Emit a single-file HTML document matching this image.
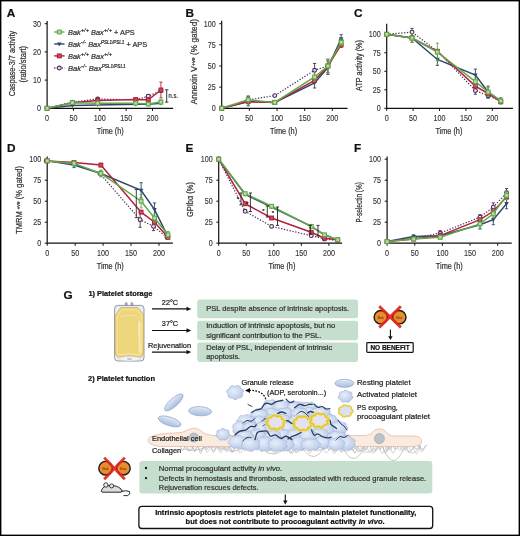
<!DOCTYPE html>
<html><head><meta charset="utf-8"><style>
html,body{margin:0;padding:0;background:#fff;overflow:hidden;}
svg{display:block;font-family:"Liberation Sans",sans-serif;will-change:transform;}
</style></head><body>
<svg width="520" height="536" viewBox="0 0 520 536">
<rect x="0" y="0" width="520" height="536" fill="#fff"/>
<path d="M47.10,21.00 V108.30 H173.20" fill="none" stroke="#111" stroke-width="1.2"/>
<path d="M44.70,108.30 H47.10" stroke="#111" stroke-width="1"/>
<text x="41.10" y="111.20" font-size="8.2" text-anchor="end" font-weight="normal" font-style="normal" fill="#333" stroke="#333" stroke-width="0.12" textLength="4.00" lengthAdjust="spacingAndGlyphs" >0</text>
<path d="M44.70,80.10 H47.10" stroke="#111" stroke-width="1"/>
<text x="41.10" y="83.00" font-size="8.2" text-anchor="end" font-weight="normal" font-style="normal" fill="#333" stroke="#333" stroke-width="0.12" textLength="8.00" lengthAdjust="spacingAndGlyphs" >10</text>
<path d="M44.70,51.90 H47.10" stroke="#111" stroke-width="1"/>
<text x="41.10" y="54.80" font-size="8.2" text-anchor="end" font-weight="normal" font-style="normal" fill="#333" stroke="#333" stroke-width="0.12" textLength="8.00" lengthAdjust="spacingAndGlyphs" >20</text>
<path d="M44.70,23.70 H47.10" stroke="#111" stroke-width="1"/>
<text x="41.10" y="26.60" font-size="8.2" text-anchor="end" font-weight="normal" font-style="normal" fill="#333" stroke="#333" stroke-width="0.12" textLength="8.00" lengthAdjust="spacingAndGlyphs" >30</text>
<path d="M47.10,108.30 V110.90" stroke="#111" stroke-width="1"/>
<text x="47.10" y="120.80" font-size="8.2" text-anchor="middle" font-weight="normal" font-style="normal" fill="#333" stroke="#333" stroke-width="0.12" textLength="4.00" lengthAdjust="spacingAndGlyphs" >0</text>
<path d="M73.45,108.30 V110.90" stroke="#111" stroke-width="1"/>
<text x="73.45" y="120.80" font-size="8.2" text-anchor="middle" font-weight="normal" font-style="normal" fill="#333" stroke="#333" stroke-width="0.12" textLength="8.00" lengthAdjust="spacingAndGlyphs" >50</text>
<path d="M99.80,108.30 V110.90" stroke="#111" stroke-width="1"/>
<text x="99.80" y="120.80" font-size="8.2" text-anchor="middle" font-weight="normal" font-style="normal" fill="#333" stroke="#333" stroke-width="0.12" textLength="12.00" lengthAdjust="spacingAndGlyphs" >100</text>
<path d="M126.15,108.30 V110.90" stroke="#111" stroke-width="1"/>
<text x="126.15" y="120.80" font-size="8.2" text-anchor="middle" font-weight="normal" font-style="normal" fill="#333" stroke="#333" stroke-width="0.12" textLength="12.00" lengthAdjust="spacingAndGlyphs" >150</text>
<path d="M152.50,108.30 V110.90" stroke="#111" stroke-width="1"/>
<text x="152.50" y="120.80" font-size="8.2" text-anchor="middle" font-weight="normal" font-style="normal" fill="#333" stroke="#333" stroke-width="0.12" textLength="12.00" lengthAdjust="spacingAndGlyphs" >200</text>
<text x="110.30" y="134.40" font-size="8.8" text-anchor="middle" font-weight="normal" font-style="normal" fill="#333" stroke="#333" stroke-width="0.22" textLength="27.00" lengthAdjust="spacingAndGlyphs" >Time (h)</text>
<polyline points="47.10,108.30 72.40,102.10 97.69,98.99 135.64,99.84 148.28,96.17 160.93,90.82" fill="none" stroke="#4a2c55" stroke-width="1.2" stroke-dasharray="1.3,1.6"/>
<path d="M72.40,100.97 V103.22 M70.80,100.97 H74.00 M70.80,103.22 H74.00" stroke="#4a2c55" stroke-width="0.9" fill="none"/>
<path d="M97.69,97.58 V100.40 M96.09,97.58 H99.29 M96.09,100.40 H99.29" stroke="#4a2c55" stroke-width="0.9" fill="none"/>
<path d="M135.64,98.71 V100.97 M134.04,98.71 H137.24 M134.04,100.97 H137.24" stroke="#4a2c55" stroke-width="0.9" fill="none"/>
<path d="M148.28,94.48 V97.87 M146.68,94.48 H149.88 M146.68,97.87 H149.88" stroke="#4a2c55" stroke-width="0.9" fill="none"/>
<circle cx="47.10" cy="108.30" r="1.9" fill="#f1e6f0" stroke="#4a2c55" stroke-width="1.1"/>
<circle cx="72.40" cy="102.10" r="1.9" fill="#f1e6f0" stroke="#4a2c55" stroke-width="1.1"/>
<circle cx="97.69" cy="98.99" r="1.9" fill="#f1e6f0" stroke="#4a2c55" stroke-width="1.1"/>
<circle cx="135.64" cy="99.84" r="1.9" fill="#f1e6f0" stroke="#4a2c55" stroke-width="1.1"/>
<circle cx="148.28" cy="96.17" r="1.9" fill="#f1e6f0" stroke="#4a2c55" stroke-width="1.1"/>
<circle cx="160.93" cy="90.82" r="1.9" fill="#f1e6f0" stroke="#4a2c55" stroke-width="1.1"/>
<polyline points="47.10,108.30 72.40,105.48 97.69,104.92 135.64,104.35 148.28,104.35 160.93,103.22" fill="none" stroke="#2c4868" stroke-width="1.5"/>
<path d="M44.80,106.70 L49.40,106.70 L47.10,110.50Z" fill="#2c4868"/>
<path d="M70.10,103.88 L74.70,103.88 L72.40,107.68Z" fill="#2c4868"/>
<path d="M95.39,103.32 L99.99,103.32 L97.69,107.12Z" fill="#2c4868"/>
<path d="M133.34,102.75 L137.94,102.75 L135.64,106.55Z" fill="#2c4868"/>
<path d="M145.98,102.75 L150.58,102.75 L148.28,106.55Z" fill="#2c4868"/>
<path d="M158.63,101.62 L163.23,101.62 L160.93,105.42Z" fill="#2c4868"/>
<polyline points="47.10,108.30 72.40,102.66 97.69,100.40 135.64,99.56 148.28,99.84 160.93,89.97" fill="none" stroke="#b2203e" stroke-width="1.5"/>
<path d="M72.40,101.53 V103.79 M70.80,101.53 H74.00 M70.80,103.79 H74.00" stroke="#b2203e" stroke-width="0.9" fill="none"/>
<path d="M97.69,98.99 V101.81 M96.09,98.99 H99.29 M96.09,101.81 H99.29" stroke="#b2203e" stroke-width="0.9" fill="none"/>
<path d="M135.64,98.15 V100.97 M134.04,98.15 H137.24 M134.04,100.97 H137.24" stroke="#b2203e" stroke-width="0.9" fill="none"/>
<path d="M148.28,98.43 V101.25 M146.68,98.43 H149.88 M146.68,101.25 H149.88" stroke="#b2203e" stroke-width="0.9" fill="none"/>
<path d="M160.93,82.07 V97.87 M159.33,82.07 H162.53 M159.33,97.87 H162.53" stroke="#b2203e" stroke-width="0.9" fill="none"/>
<rect x="45.20" y="106.40" width="3.8" height="3.8" fill="#c44a62" stroke="#b2203e" stroke-width="1.1"/>
<rect x="70.50" y="100.76" width="3.8" height="3.8" fill="#c44a62" stroke="#b2203e" stroke-width="1.1"/>
<rect x="95.79" y="98.50" width="3.8" height="3.8" fill="#c44a62" stroke="#b2203e" stroke-width="1.1"/>
<rect x="133.74" y="97.66" width="3.8" height="3.8" fill="#c44a62" stroke="#b2203e" stroke-width="1.1"/>
<rect x="146.38" y="97.94" width="3.8" height="3.8" fill="#c44a62" stroke="#b2203e" stroke-width="1.1"/>
<rect x="159.03" y="88.07" width="3.8" height="3.8" fill="#c44a62" stroke="#b2203e" stroke-width="1.1"/>
<polyline points="47.10,108.30 72.40,102.66 97.69,103.22 135.64,103.22 148.28,104.07 160.93,102.10" fill="none" stroke="#62a84a" stroke-width="1.5"/>
<path d="M72.40,101.53 V103.79 M70.80,101.53 H74.00 M70.80,103.79 H74.00" stroke="#62a84a" stroke-width="0.9" fill="none"/>
<path d="M97.69,102.38 V104.07 M96.09,102.38 H99.29 M96.09,104.07 H99.29" stroke="#62a84a" stroke-width="0.9" fill="none"/>
<path d="M135.64,102.38 V104.07 M134.04,102.38 H137.24 M134.04,104.07 H137.24" stroke="#62a84a" stroke-width="0.9" fill="none"/>
<path d="M148.28,103.22 V104.92 M146.68,103.22 H149.88 M146.68,104.92 H149.88" stroke="#62a84a" stroke-width="0.9" fill="none"/>
<path d="M160.93,99.84 V104.35 M159.33,99.84 H162.53 M159.33,104.35 H162.53" stroke="#62a84a" stroke-width="0.9" fill="none"/>
<rect x="45.20" y="106.40" width="3.8" height="3.8" fill="#b8dca4" stroke="#62a84a" stroke-width="1.1"/>
<rect x="70.50" y="100.76" width="3.8" height="3.8" fill="#b8dca4" stroke="#62a84a" stroke-width="1.1"/>
<rect x="95.79" y="101.32" width="3.8" height="3.8" fill="#b8dca4" stroke="#62a84a" stroke-width="1.1"/>
<rect x="133.74" y="101.32" width="3.8" height="3.8" fill="#b8dca4" stroke="#62a84a" stroke-width="1.1"/>
<rect x="146.38" y="102.17" width="3.8" height="3.8" fill="#b8dca4" stroke="#62a84a" stroke-width="1.1"/>
<rect x="159.03" y="100.20" width="3.8" height="3.8" fill="#b8dca4" stroke="#62a84a" stroke-width="1.1"/>
<path d="M54.2,32.00 H64.5" stroke="#62a84a" stroke-width="1.4"/>
<rect x="57.40" y="30.10" width="3.8" height="3.8" fill="#b8dca4" stroke="#62a84a" stroke-width="1.1"/>
<text x="68.0" y="34.60" font-size="7.5" font-style="italic" fill="#333" stroke="#333" stroke-width="0.22" textLength="66.8" lengthAdjust="spacingAndGlyphs">Bak<tspan font-size="5.8" dy="-2.9">+/+</tspan><tspan dy="2.9"> Bax</tspan><tspan font-size="5.8" dy="-2.9">+/+</tspan><tspan dy="2.9"><tspan font-style="normal"> + APS</tspan></tspan></text>
<path d="M54.2,44.00 H64.5" stroke="#2c4868" stroke-width="1.4"/>
<path d="M57.00,42.40 L61.60,42.40 L59.30,46.20Z" fill="#2c4868"/>
<text x="68.0" y="46.60" font-size="7.5" font-style="italic" fill="#333" stroke="#333" stroke-width="0.22" textLength="79.2" lengthAdjust="spacingAndGlyphs">Bak<tspan font-size="5.8" dy="-2.9">-/-</tspan><tspan dy="2.9"> Bax</tspan><tspan font-size="4.6" dy="-2.9">PSL1/PSL1</tspan><tspan dy="2.9"><tspan font-style="normal"> + APS</tspan></tspan></text>
<path d="M54.2,55.90 H64.5" stroke="#b2203e" stroke-width="1.4"/>
<rect x="57.40" y="54.00" width="3.8" height="3.8" fill="#c44a62" stroke="#b2203e" stroke-width="1.1"/>
<text x="68.0" y="58.50" font-size="7.5" font-style="italic" fill="#333" stroke="#333" stroke-width="0.22" textLength="44.2" lengthAdjust="spacingAndGlyphs">Bak<tspan font-size="5.8" dy="-2.9">+/+</tspan><tspan dy="2.9"> Bax</tspan><tspan font-size="5.8" dy="-2.9">+/+</tspan></text>
<path d="M54.2,68.00 H64.5" stroke="#4a2c55" stroke-width="1.4" stroke-dasharray="1.2,1.3"/>
<circle cx="59.30" cy="68.00" r="1.9" fill="#f1e6f0" stroke="#4a2c55" stroke-width="1.1"/>
<text x="68.0" y="70.60" font-size="7.5" font-style="italic" fill="#333" stroke="#333" stroke-width="0.22" textLength="57.6" lengthAdjust="spacingAndGlyphs">Bak<tspan font-size="5.8" dy="-2.9">-/-</tspan><tspan dy="2.9"> Bax</tspan><tspan font-size="4.6" dy="-2.9">PSL1/PSL1</tspan></text>
<path d="M166.7,89.8 V102.1 M165.0,89.8 H168.4 M165.0,102.1 H168.4" stroke="#222" stroke-width="0.9" fill="none"/>
<text x="168.60" y="97.80" font-size="7" text-anchor="start" font-weight="normal" font-style="normal" fill="#333" stroke="#333" stroke-width="0.22" textLength="9.50" lengthAdjust="spacingAndGlyphs" >n.s.</text>
<text transform="translate(15.00,63.60) rotate(-90)" x="0" y="0" font-size="8.4" text-anchor="middle" fill="#333" stroke="#333" stroke-width="0.22" textLength="65.30" lengthAdjust="spacingAndGlyphs">Caspase-3/7 activity</text>
<text transform="translate(25.60,64.20) rotate(-90)" x="0" y="0" font-size="8.4" text-anchor="middle" fill="#333" stroke="#333" stroke-width="0.22" textLength="36.60" lengthAdjust="spacingAndGlyphs">(ratio/start)</text>
<path d="M221.70,20.80 V108.30 H347.50" fill="none" stroke="#111" stroke-width="1.2"/>
<path d="M219.30,108.30 H221.70" stroke="#111" stroke-width="1"/>
<text x="215.70" y="111.20" font-size="8.2" text-anchor="end" font-weight="normal" font-style="normal" fill="#333" stroke="#333" stroke-width="0.12" textLength="4.00" lengthAdjust="spacingAndGlyphs" >0</text>
<path d="M219.30,87.15 H221.70" stroke="#111" stroke-width="1"/>
<text x="215.70" y="90.05" font-size="8.2" text-anchor="end" font-weight="normal" font-style="normal" fill="#333" stroke="#333" stroke-width="0.12" textLength="8.00" lengthAdjust="spacingAndGlyphs" >25</text>
<path d="M219.30,66.00 H221.70" stroke="#111" stroke-width="1"/>
<text x="215.70" y="68.90" font-size="8.2" text-anchor="end" font-weight="normal" font-style="normal" fill="#333" stroke="#333" stroke-width="0.12" textLength="8.00" lengthAdjust="spacingAndGlyphs" >50</text>
<path d="M219.30,44.85 H221.70" stroke="#111" stroke-width="1"/>
<text x="215.70" y="47.75" font-size="8.2" text-anchor="end" font-weight="normal" font-style="normal" fill="#333" stroke="#333" stroke-width="0.12" textLength="8.00" lengthAdjust="spacingAndGlyphs" >75</text>
<path d="M219.30,23.70 H221.70" stroke="#111" stroke-width="1"/>
<text x="215.70" y="26.60" font-size="8.2" text-anchor="end" font-weight="normal" font-style="normal" fill="#333" stroke="#333" stroke-width="0.12" textLength="12.00" lengthAdjust="spacingAndGlyphs" >100</text>
<path d="M221.70,108.30 V110.90" stroke="#111" stroke-width="1"/>
<text x="221.70" y="120.80" font-size="8.2" text-anchor="middle" font-weight="normal" font-style="normal" fill="#333" stroke="#333" stroke-width="0.12" textLength="4.00" lengthAdjust="spacingAndGlyphs" >0</text>
<path d="M249.35,108.30 V110.90" stroke="#111" stroke-width="1"/>
<text x="249.35" y="120.80" font-size="8.2" text-anchor="middle" font-weight="normal" font-style="normal" fill="#333" stroke="#333" stroke-width="0.12" textLength="8.00" lengthAdjust="spacingAndGlyphs" >50</text>
<path d="M277.00,108.30 V110.90" stroke="#111" stroke-width="1"/>
<text x="277.00" y="120.80" font-size="8.2" text-anchor="middle" font-weight="normal" font-style="normal" fill="#333" stroke="#333" stroke-width="0.12" textLength="12.00" lengthAdjust="spacingAndGlyphs" >100</text>
<path d="M304.65,108.30 V110.90" stroke="#111" stroke-width="1"/>
<text x="304.65" y="120.80" font-size="8.2" text-anchor="middle" font-weight="normal" font-style="normal" fill="#333" stroke="#333" stroke-width="0.12" textLength="12.00" lengthAdjust="spacingAndGlyphs" >150</text>
<path d="M332.30,108.30 V110.90" stroke="#111" stroke-width="1"/>
<text x="332.30" y="120.80" font-size="8.2" text-anchor="middle" font-weight="normal" font-style="normal" fill="#333" stroke="#333" stroke-width="0.12" textLength="12.00" lengthAdjust="spacingAndGlyphs" >200</text>
<text x="283.60" y="134.40" font-size="8.8" text-anchor="middle" font-weight="normal" font-style="normal" fill="#333" stroke="#333" stroke-width="0.22" textLength="27.00" lengthAdjust="spacingAndGlyphs" >Time (h)</text>
<polyline points="221.70,108.30 248.24,99.84 274.79,95.61 314.60,70.23 327.88,66.00 341.15,40.62" fill="none" stroke="#4a2c55" stroke-width="1.2" stroke-dasharray="1.3,1.6"/>
<path d="M248.24,96.46 V103.22 M246.64,96.46 H249.84 M246.64,103.22 H249.84" stroke="#4a2c55" stroke-width="0.9" fill="none"/>
<path d="M314.60,63.46 V77.00 M313.00,63.46 H316.20 M313.00,77.00 H316.20" stroke="#4a2c55" stroke-width="0.9" fill="none"/>
<circle cx="221.70" cy="108.30" r="1.9" fill="#f1e6f0" stroke="#4a2c55" stroke-width="1.1"/>
<circle cx="248.24" cy="99.84" r="1.9" fill="#f1e6f0" stroke="#4a2c55" stroke-width="1.1"/>
<circle cx="274.79" cy="95.61" r="1.9" fill="#f1e6f0" stroke="#4a2c55" stroke-width="1.1"/>
<circle cx="314.60" cy="70.23" r="1.9" fill="#f1e6f0" stroke="#4a2c55" stroke-width="1.1"/>
<circle cx="327.88" cy="66.00" r="1.9" fill="#f1e6f0" stroke="#4a2c55" stroke-width="1.1"/>
<circle cx="341.15" cy="40.62" r="1.9" fill="#f1e6f0" stroke="#4a2c55" stroke-width="1.1"/>
<polyline points="221.70,108.30 248.24,101.53 274.79,102.38 314.60,82.92 327.88,67.69 341.15,38.93" fill="none" stroke="#2c4868" stroke-width="1.5"/>
<path d="M248.24,97.30 V105.76 M246.64,97.30 H249.84 M246.64,105.76 H249.84" stroke="#2c4868" stroke-width="0.9" fill="none"/>
<path d="M274.79,100.69 V104.07 M273.19,100.69 H276.39 M273.19,104.07 H276.39" stroke="#2c4868" stroke-width="0.9" fill="none"/>
<path d="M314.60,77.84 V88.00 M313.00,77.84 H316.20 M313.00,88.00 H316.20" stroke="#2c4868" stroke-width="0.9" fill="none"/>
<path d="M327.88,60.92 V74.46 M326.28,60.92 H329.48 M326.28,74.46 H329.48" stroke="#2c4868" stroke-width="0.9" fill="none"/>
<path d="M341.15,34.70 V43.16 M339.55,34.70 H342.75 M339.55,43.16 H342.75" stroke="#2c4868" stroke-width="0.9" fill="none"/>
<path d="M219.40,106.70 L224.00,106.70 L221.70,110.50Z" fill="#2c4868"/>
<path d="M245.94,99.93 L250.54,99.93 L248.24,103.73Z" fill="#2c4868"/>
<path d="M272.49,100.78 L277.09,100.78 L274.79,104.58Z" fill="#2c4868"/>
<path d="M312.30,81.32 L316.90,81.32 L314.60,85.12Z" fill="#2c4868"/>
<path d="M325.58,66.09 L330.18,66.09 L327.88,69.89Z" fill="#2c4868"/>
<path d="M338.85,37.33 L343.45,37.33 L341.15,41.13Z" fill="#2c4868"/>
<polyline points="221.70,108.30 248.24,101.53 274.79,102.38 314.60,80.38 327.88,66.00 341.15,44.85" fill="none" stroke="#b2203e" stroke-width="1.5"/>
<path d="M327.88,59.23 V72.77 M326.28,59.23 H329.48 M326.28,72.77 H329.48" stroke="#b2203e" stroke-width="0.9" fill="none"/>
<path d="M341.15,42.31 V47.39 M339.55,42.31 H342.75 M339.55,47.39 H342.75" stroke="#b2203e" stroke-width="0.9" fill="none"/>
<rect x="219.80" y="106.40" width="3.8" height="3.8" fill="#c44a62" stroke="#b2203e" stroke-width="1.1"/>
<rect x="246.34" y="99.63" width="3.8" height="3.8" fill="#c44a62" stroke="#b2203e" stroke-width="1.1"/>
<rect x="272.89" y="100.48" width="3.8" height="3.8" fill="#c44a62" stroke="#b2203e" stroke-width="1.1"/>
<rect x="312.70" y="78.48" width="3.8" height="3.8" fill="#c44a62" stroke="#b2203e" stroke-width="1.1"/>
<rect x="325.98" y="64.10" width="3.8" height="3.8" fill="#c44a62" stroke="#b2203e" stroke-width="1.1"/>
<rect x="339.25" y="42.95" width="3.8" height="3.8" fill="#c44a62" stroke="#b2203e" stroke-width="1.1"/>
<polyline points="221.70,108.30 248.24,99.84 274.79,102.38 314.60,77.00 327.88,66.00 341.15,42.31" fill="none" stroke="#62a84a" stroke-width="1.5"/>
<path d="M248.24,95.61 V104.07 M246.64,95.61 H249.84 M246.64,104.07 H249.84" stroke="#62a84a" stroke-width="0.9" fill="none"/>
<path d="M274.79,100.69 V104.07 M273.19,100.69 H276.39 M273.19,104.07 H276.39" stroke="#62a84a" stroke-width="0.9" fill="none"/>
<path d="M314.60,72.77 V81.23 M313.00,72.77 H316.20 M313.00,81.23 H316.20" stroke="#62a84a" stroke-width="0.9" fill="none"/>
<path d="M327.88,59.23 V72.77 M326.28,59.23 H329.48 M326.28,72.77 H329.48" stroke="#62a84a" stroke-width="0.9" fill="none"/>
<path d="M341.15,38.93 V45.70 M339.55,38.93 H342.75 M339.55,45.70 H342.75" stroke="#62a84a" stroke-width="0.9" fill="none"/>
<rect x="219.80" y="106.40" width="3.8" height="3.8" fill="#b8dca4" stroke="#62a84a" stroke-width="1.1"/>
<rect x="246.34" y="97.94" width="3.8" height="3.8" fill="#b8dca4" stroke="#62a84a" stroke-width="1.1"/>
<rect x="272.89" y="100.48" width="3.8" height="3.8" fill="#b8dca4" stroke="#62a84a" stroke-width="1.1"/>
<rect x="312.70" y="75.10" width="3.8" height="3.8" fill="#b8dca4" stroke="#62a84a" stroke-width="1.1"/>
<rect x="325.98" y="64.10" width="3.8" height="3.8" fill="#b8dca4" stroke="#62a84a" stroke-width="1.1"/>
<rect x="339.25" y="40.41" width="3.8" height="3.8" fill="#b8dca4" stroke="#62a84a" stroke-width="1.1"/>
<text transform="translate(197.00,61.60) rotate(-90)" x="0" y="0" font-size="8.4" text-anchor="middle" fill="#333" stroke="#333" stroke-width="0.22" textLength="85.30" lengthAdjust="spacingAndGlyphs">Annexin V<tspan font-size="5.5" dy="-2.5">+ve</tspan><tspan dy="2.5"> (% gated)</tspan></text>
<path d="M386.70,23.70 V108.30 H512.90" fill="none" stroke="#111" stroke-width="1.2"/>
<path d="M384.30,108.30 H386.70" stroke="#111" stroke-width="1"/>
<text x="380.70" y="111.20" font-size="8.2" text-anchor="end" font-weight="normal" font-style="normal" fill="#333" stroke="#333" stroke-width="0.12" textLength="4.00" lengthAdjust="spacingAndGlyphs" >0</text>
<path d="M384.30,89.80 H386.70" stroke="#111" stroke-width="1"/>
<text x="380.70" y="92.70" font-size="8.2" text-anchor="end" font-weight="normal" font-style="normal" fill="#333" stroke="#333" stroke-width="0.12" textLength="8.00" lengthAdjust="spacingAndGlyphs" >25</text>
<path d="M384.30,71.30 H386.70" stroke="#111" stroke-width="1"/>
<text x="380.70" y="74.20" font-size="8.2" text-anchor="end" font-weight="normal" font-style="normal" fill="#333" stroke="#333" stroke-width="0.12" textLength="8.00" lengthAdjust="spacingAndGlyphs" >50</text>
<path d="M384.30,52.80 H386.70" stroke="#111" stroke-width="1"/>
<text x="380.70" y="55.70" font-size="8.2" text-anchor="end" font-weight="normal" font-style="normal" fill="#333" stroke="#333" stroke-width="0.12" textLength="8.00" lengthAdjust="spacingAndGlyphs" >75</text>
<path d="M384.30,34.30 H386.70" stroke="#111" stroke-width="1"/>
<text x="380.70" y="37.20" font-size="8.2" text-anchor="end" font-weight="normal" font-style="normal" fill="#333" stroke="#333" stroke-width="0.12" textLength="12.00" lengthAdjust="spacingAndGlyphs" >100</text>
<path d="M386.70,108.30 V110.90" stroke="#111" stroke-width="1"/>
<text x="386.70" y="120.80" font-size="8.2" text-anchor="middle" font-weight="normal" font-style="normal" fill="#333" stroke="#333" stroke-width="0.12" textLength="4.00" lengthAdjust="spacingAndGlyphs" >0</text>
<path d="M413.10,108.30 V110.90" stroke="#111" stroke-width="1"/>
<text x="413.10" y="120.80" font-size="8.2" text-anchor="middle" font-weight="normal" font-style="normal" fill="#333" stroke="#333" stroke-width="0.12" textLength="8.00" lengthAdjust="spacingAndGlyphs" >50</text>
<path d="M439.50,108.30 V110.90" stroke="#111" stroke-width="1"/>
<text x="439.50" y="120.80" font-size="8.2" text-anchor="middle" font-weight="normal" font-style="normal" fill="#333" stroke="#333" stroke-width="0.12" textLength="12.00" lengthAdjust="spacingAndGlyphs" >100</text>
<path d="M465.90,108.30 V110.90" stroke="#111" stroke-width="1"/>
<text x="465.90" y="120.80" font-size="8.2" text-anchor="middle" font-weight="normal" font-style="normal" fill="#333" stroke="#333" stroke-width="0.12" textLength="12.00" lengthAdjust="spacingAndGlyphs" >150</text>
<path d="M492.30,108.30 V110.90" stroke="#111" stroke-width="1"/>
<text x="492.30" y="120.80" font-size="8.2" text-anchor="middle" font-weight="normal" font-style="normal" fill="#333" stroke="#333" stroke-width="0.12" textLength="12.00" lengthAdjust="spacingAndGlyphs" >200</text>
<text x="448.90" y="134.40" font-size="8.8" text-anchor="middle" font-weight="normal" font-style="normal" fill="#333" stroke="#333" stroke-width="0.22" textLength="27.00" lengthAdjust="spacingAndGlyphs" >Time (h)</text>
<polyline points="386.70,34.30 412.04,32.08 437.39,51.32 475.40,90.54 488.08,95.72 500.75,100.90" fill="none" stroke="#4a2c55" stroke-width="1.2" stroke-dasharray="1.3,1.6"/>
<path d="M412.04,28.38 V35.78 M410.44,28.38 H413.64 M410.44,35.78 H413.64" stroke="#4a2c55" stroke-width="0.9" fill="none"/>
<path d="M475.40,86.84 V94.24 M473.80,86.84 H477.00 M473.80,94.24 H477.00" stroke="#4a2c55" stroke-width="0.9" fill="none"/>
<path d="M488.08,93.50 V97.94 M486.48,93.50 H489.68 M486.48,97.94 H489.68" stroke="#4a2c55" stroke-width="0.9" fill="none"/>
<circle cx="386.70" cy="34.30" r="1.9" fill="#f1e6f0" stroke="#4a2c55" stroke-width="1.1"/>
<circle cx="412.04" cy="32.08" r="1.9" fill="#f1e6f0" stroke="#4a2c55" stroke-width="1.1"/>
<circle cx="437.39" cy="51.32" r="1.9" fill="#f1e6f0" stroke="#4a2c55" stroke-width="1.1"/>
<circle cx="475.40" cy="90.54" r="1.9" fill="#f1e6f0" stroke="#4a2c55" stroke-width="1.1"/>
<circle cx="488.08" cy="95.72" r="1.9" fill="#f1e6f0" stroke="#4a2c55" stroke-width="1.1"/>
<circle cx="500.75" cy="100.90" r="1.9" fill="#f1e6f0" stroke="#4a2c55" stroke-width="1.1"/>
<polyline points="386.70,34.30 412.04,38.00 437.39,59.46 475.40,75.00 488.08,92.02 500.75,100.90" fill="none" stroke="#2c4868" stroke-width="1.5"/>
<path d="M412.04,33.56 V42.44 M410.44,33.56 H413.64 M410.44,42.44 H413.64" stroke="#2c4868" stroke-width="0.9" fill="none"/>
<path d="M437.39,53.54 V65.38 M435.79,53.54 H438.99 M435.79,65.38 H438.99" stroke="#2c4868" stroke-width="0.9" fill="none"/>
<path d="M475.40,69.08 V80.92 M473.80,69.08 H477.00 M473.80,80.92 H477.00" stroke="#2c4868" stroke-width="0.9" fill="none"/>
<path d="M488.08,86.10 V97.94 M486.48,86.10 H489.68 M486.48,97.94 H489.68" stroke="#2c4868" stroke-width="0.9" fill="none"/>
<path d="M500.75,97.94 V103.86 M499.15,97.94 H502.35 M499.15,103.86 H502.35" stroke="#2c4868" stroke-width="0.9" fill="none"/>
<path d="M384.40,32.70 L389.00,32.70 L386.70,36.50Z" fill="#2c4868"/>
<path d="M409.74,36.40 L414.34,36.40 L412.04,40.20Z" fill="#2c4868"/>
<path d="M435.09,57.86 L439.69,57.86 L437.39,61.66Z" fill="#2c4868"/>
<path d="M473.10,73.40 L477.70,73.40 L475.40,77.20Z" fill="#2c4868"/>
<path d="M485.78,90.42 L490.38,90.42 L488.08,94.22Z" fill="#2c4868"/>
<path d="M498.45,99.30 L503.05,99.30 L500.75,103.10Z" fill="#2c4868"/>
<polyline points="386.70,34.30 412.04,38.00 437.39,51.32 475.40,86.10 488.08,93.50 500.75,101.64" fill="none" stroke="#b2203e" stroke-width="1.5"/>
<rect x="384.80" y="32.40" width="3.8" height="3.8" fill="#c44a62" stroke="#b2203e" stroke-width="1.1"/>
<rect x="410.14" y="36.10" width="3.8" height="3.8" fill="#c44a62" stroke="#b2203e" stroke-width="1.1"/>
<rect x="435.49" y="49.42" width="3.8" height="3.8" fill="#c44a62" stroke="#b2203e" stroke-width="1.1"/>
<rect x="473.50" y="84.20" width="3.8" height="3.8" fill="#c44a62" stroke="#b2203e" stroke-width="1.1"/>
<rect x="486.18" y="91.60" width="3.8" height="3.8" fill="#c44a62" stroke="#b2203e" stroke-width="1.1"/>
<rect x="498.85" y="99.74" width="3.8" height="3.8" fill="#c44a62" stroke="#b2203e" stroke-width="1.1"/>
<polyline points="386.70,34.30 412.04,38.00 437.39,52.06 475.40,81.66 488.08,92.02 500.75,100.90" fill="none" stroke="#62a84a" stroke-width="1.5"/>
<path d="M412.04,33.56 V42.44 M410.44,33.56 H413.64 M410.44,42.44 H413.64" stroke="#62a84a" stroke-width="0.9" fill="none"/>
<path d="M437.39,43.18 V60.94 M435.79,43.18 H438.99 M435.79,60.94 H438.99" stroke="#62a84a" stroke-width="0.9" fill="none"/>
<path d="M475.40,77.96 V85.36 M473.80,77.96 H477.00 M473.80,85.36 H477.00" stroke="#62a84a" stroke-width="0.9" fill="none"/>
<path d="M488.08,87.58 V96.46 M486.48,87.58 H489.68 M486.48,96.46 H489.68" stroke="#62a84a" stroke-width="0.9" fill="none"/>
<path d="M500.75,97.94 V103.86 M499.15,97.94 H502.35 M499.15,103.86 H502.35" stroke="#62a84a" stroke-width="0.9" fill="none"/>
<rect x="384.80" y="32.40" width="3.8" height="3.8" fill="#b8dca4" stroke="#62a84a" stroke-width="1.1"/>
<rect x="410.14" y="36.10" width="3.8" height="3.8" fill="#b8dca4" stroke="#62a84a" stroke-width="1.1"/>
<rect x="435.49" y="50.16" width="3.8" height="3.8" fill="#b8dca4" stroke="#62a84a" stroke-width="1.1"/>
<rect x="473.50" y="79.76" width="3.8" height="3.8" fill="#b8dca4" stroke="#62a84a" stroke-width="1.1"/>
<rect x="486.18" y="90.12" width="3.8" height="3.8" fill="#b8dca4" stroke="#62a84a" stroke-width="1.1"/>
<rect x="498.85" y="99.00" width="3.8" height="3.8" fill="#b8dca4" stroke="#62a84a" stroke-width="1.1"/>
<text transform="translate(362.00,65.50) rotate(-90)" x="0" y="0" font-size="8.4" text-anchor="middle" fill="#333" stroke="#333" stroke-width="0.22" textLength="50.80" lengthAdjust="spacingAndGlyphs">ATP activity (%)</text>
<path d="M47.20,156.50 V243.20 H172.90" fill="none" stroke="#111" stroke-width="1.2"/>
<path d="M44.80,243.20 H47.20" stroke="#111" stroke-width="1"/>
<text x="41.20" y="246.10" font-size="8.2" text-anchor="end" font-weight="normal" font-style="normal" fill="#333" stroke="#333" stroke-width="0.12" textLength="4.00" lengthAdjust="spacingAndGlyphs" >0</text>
<path d="M44.80,222.20 H47.20" stroke="#111" stroke-width="1"/>
<text x="41.20" y="225.10" font-size="8.2" text-anchor="end" font-weight="normal" font-style="normal" fill="#333" stroke="#333" stroke-width="0.12" textLength="8.00" lengthAdjust="spacingAndGlyphs" >25</text>
<path d="M44.80,201.20 H47.20" stroke="#111" stroke-width="1"/>
<text x="41.20" y="204.10" font-size="8.2" text-anchor="end" font-weight="normal" font-style="normal" fill="#333" stroke="#333" stroke-width="0.12" textLength="8.00" lengthAdjust="spacingAndGlyphs" >50</text>
<path d="M44.80,180.20 H47.20" stroke="#111" stroke-width="1"/>
<text x="41.20" y="183.10" font-size="8.2" text-anchor="end" font-weight="normal" font-style="normal" fill="#333" stroke="#333" stroke-width="0.12" textLength="8.00" lengthAdjust="spacingAndGlyphs" >75</text>
<path d="M44.80,159.20 H47.20" stroke="#111" stroke-width="1"/>
<text x="41.20" y="162.10" font-size="8.2" text-anchor="end" font-weight="normal" font-style="normal" fill="#333" stroke="#333" stroke-width="0.12" textLength="12.00" lengthAdjust="spacingAndGlyphs" >100</text>
<path d="M47.20,243.20 V245.80" stroke="#111" stroke-width="1"/>
<text x="47.20" y="255.70" font-size="8.2" text-anchor="middle" font-weight="normal" font-style="normal" fill="#333" stroke="#333" stroke-width="0.12" textLength="4.00" lengthAdjust="spacingAndGlyphs" >0</text>
<path d="M75.15,243.20 V245.80" stroke="#111" stroke-width="1"/>
<text x="75.15" y="255.70" font-size="8.2" text-anchor="middle" font-weight="normal" font-style="normal" fill="#333" stroke="#333" stroke-width="0.12" textLength="8.00" lengthAdjust="spacingAndGlyphs" >50</text>
<path d="M103.10,243.20 V245.80" stroke="#111" stroke-width="1"/>
<text x="103.10" y="255.70" font-size="8.2" text-anchor="middle" font-weight="normal" font-style="normal" fill="#333" stroke="#333" stroke-width="0.12" textLength="12.00" lengthAdjust="spacingAndGlyphs" >100</text>
<path d="M131.05,243.20 V245.80" stroke="#111" stroke-width="1"/>
<text x="131.05" y="255.70" font-size="8.2" text-anchor="middle" font-weight="normal" font-style="normal" fill="#333" stroke="#333" stroke-width="0.12" textLength="12.00" lengthAdjust="spacingAndGlyphs" >150</text>
<path d="M159.00,243.20 V245.80" stroke="#111" stroke-width="1"/>
<text x="159.00" y="255.70" font-size="8.2" text-anchor="middle" font-weight="normal" font-style="normal" fill="#333" stroke="#333" stroke-width="0.12" textLength="12.00" lengthAdjust="spacingAndGlyphs" >200</text>
<text x="110.20" y="269.30" font-size="8.8" text-anchor="middle" font-weight="normal" font-style="normal" fill="#333" stroke="#333" stroke-width="0.22" textLength="27.00" lengthAdjust="spacingAndGlyphs" >Time (h)</text>
<polyline points="46.20,160.88 73.03,163.40 99.86,173.48 140.11,219.68 153.53,226.40 166.94,237.32" fill="none" stroke="#4a2c55" stroke-width="1.2" stroke-dasharray="1.3,1.6"/>
<path d="M140.11,212.12 V227.24 M138.51,212.12 H141.71 M138.51,227.24 H141.71" stroke="#4a2c55" stroke-width="0.9" fill="none"/>
<path d="M153.53,222.20 V230.60 M151.93,222.20 H155.13 M151.93,230.60 H155.13" stroke="#4a2c55" stroke-width="0.9" fill="none"/>
<circle cx="46.20" cy="160.88" r="1.9" fill="#f1e6f0" stroke="#4a2c55" stroke-width="1.1"/>
<circle cx="73.03" cy="163.40" r="1.9" fill="#f1e6f0" stroke="#4a2c55" stroke-width="1.1"/>
<circle cx="99.86" cy="173.48" r="1.9" fill="#f1e6f0" stroke="#4a2c55" stroke-width="1.1"/>
<circle cx="140.11" cy="219.68" r="1.9" fill="#f1e6f0" stroke="#4a2c55" stroke-width="1.1"/>
<circle cx="153.53" cy="226.40" r="1.9" fill="#f1e6f0" stroke="#4a2c55" stroke-width="1.1"/>
<circle cx="166.94" cy="237.32" r="1.9" fill="#f1e6f0" stroke="#4a2c55" stroke-width="1.1"/>
<polyline points="47.20,160.88 74.03,165.08 100.86,173.48 141.11,190.28 154.53,209.60 167.94,236.48" fill="none" stroke="#2c4868" stroke-width="1.5"/>
<path d="M74.03,162.56 V167.60 M72.43,162.56 H75.63 M72.43,167.60 H75.63" stroke="#2c4868" stroke-width="0.9" fill="none"/>
<path d="M100.86,170.96 V176.00 M99.26,170.96 H102.46 M99.26,176.00 H102.46" stroke="#2c4868" stroke-width="0.9" fill="none"/>
<path d="M141.11,182.72 V197.84 M139.51,182.72 H142.71 M139.51,197.84 H142.71" stroke="#2c4868" stroke-width="0.9" fill="none"/>
<path d="M154.53,202.88 V216.32 M152.93,202.88 H156.13 M152.93,216.32 H156.13" stroke="#2c4868" stroke-width="0.9" fill="none"/>
<path d="M167.94,234.80 V238.16 M166.34,234.80 H169.54 M166.34,238.16 H169.54" stroke="#2c4868" stroke-width="0.9" fill="none"/>
<path d="M44.90,159.28 L49.50,159.28 L47.20,163.08Z" fill="#2c4868"/>
<path d="M71.73,163.48 L76.33,163.48 L74.03,167.28Z" fill="#2c4868"/>
<path d="M98.56,171.88 L103.16,171.88 L100.86,175.68Z" fill="#2c4868"/>
<path d="M138.81,188.68 L143.41,188.68 L141.11,192.48Z" fill="#2c4868"/>
<path d="M152.23,208.00 L156.83,208.00 L154.53,211.80Z" fill="#2c4868"/>
<path d="M165.64,234.88 L170.24,234.88 L167.94,238.68Z" fill="#2c4868"/>
<polyline points="47.20,160.88 74.03,162.56 100.86,165.08 141.11,212.12 154.53,222.20 167.94,237.32" fill="none" stroke="#b2203e" stroke-width="1.5"/>
<path d="M100.86,163.40 V166.76 M99.26,163.40 H102.46 M99.26,166.76 H102.46" stroke="#b2203e" stroke-width="0.9" fill="none"/>
<rect x="45.30" y="158.98" width="3.8" height="3.8" fill="#c44a62" stroke="#b2203e" stroke-width="1.1"/>
<rect x="72.13" y="160.66" width="3.8" height="3.8" fill="#c44a62" stroke="#b2203e" stroke-width="1.1"/>
<rect x="98.96" y="163.18" width="3.8" height="3.8" fill="#c44a62" stroke="#b2203e" stroke-width="1.1"/>
<rect x="139.21" y="210.22" width="3.8" height="3.8" fill="#c44a62" stroke="#b2203e" stroke-width="1.1"/>
<rect x="152.63" y="220.30" width="3.8" height="3.8" fill="#c44a62" stroke="#b2203e" stroke-width="1.1"/>
<rect x="166.04" y="235.42" width="3.8" height="3.8" fill="#c44a62" stroke="#b2203e" stroke-width="1.1"/>
<polyline points="47.20,160.88 74.03,163.40 100.86,173.48 141.11,201.20 154.53,218.00 167.94,234.80" fill="none" stroke="#62a84a" stroke-width="1.5"/>
<path d="M74.03,160.88 V165.92 M72.43,160.88 H75.63 M72.43,165.92 H75.63" stroke="#62a84a" stroke-width="0.9" fill="none"/>
<path d="M100.86,170.12 V176.84 M99.26,170.12 H102.46 M99.26,176.84 H102.46" stroke="#62a84a" stroke-width="0.9" fill="none"/>
<path d="M141.11,194.48 V207.92 M139.51,194.48 H142.71 M139.51,207.92 H142.71" stroke="#62a84a" stroke-width="0.9" fill="none"/>
<path d="M154.53,213.80 V222.20 M152.93,213.80 H156.13 M152.93,222.20 H156.13" stroke="#62a84a" stroke-width="0.9" fill="none"/>
<path d="M167.94,231.44 V238.16 M166.34,231.44 H169.54 M166.34,238.16 H169.54" stroke="#62a84a" stroke-width="0.9" fill="none"/>
<rect x="45.30" y="158.98" width="3.8" height="3.8" fill="#b8dca4" stroke="#62a84a" stroke-width="1.1"/>
<rect x="72.13" y="161.50" width="3.8" height="3.8" fill="#b8dca4" stroke="#62a84a" stroke-width="1.1"/>
<rect x="98.96" y="171.58" width="3.8" height="3.8" fill="#b8dca4" stroke="#62a84a" stroke-width="1.1"/>
<rect x="139.21" y="199.30" width="3.8" height="3.8" fill="#b8dca4" stroke="#62a84a" stroke-width="1.1"/>
<rect x="152.63" y="216.10" width="3.8" height="3.8" fill="#b8dca4" stroke="#62a84a" stroke-width="1.1"/>
<rect x="166.04" y="232.90" width="3.8" height="3.8" fill="#b8dca4" stroke="#62a84a" stroke-width="1.1"/>
<path d="M136.3,189.4 V217.7 M134.7,189.4 H137.9 M134.7,217.7 H137.9" stroke="#2a2a3a" stroke-width="0.9" fill="none"/>
<text transform="translate(22.40,200.00) rotate(-90)" x="0" y="0" font-size="8.4" text-anchor="middle" fill="#333" stroke="#333" stroke-width="0.22" textLength="68.00" lengthAdjust="spacingAndGlyphs">TMRM<tspan font-size="5.5" dy="-2.5"> +ve</tspan><tspan dy="2.5"> (% gated)</tspan></text>
<path d="M218.70,156.50 V243.20 H342.10" fill="none" stroke="#111" stroke-width="1.2"/>
<path d="M216.30,243.20 H218.70" stroke="#111" stroke-width="1"/>
<text x="212.70" y="246.10" font-size="8.2" text-anchor="end" font-weight="normal" font-style="normal" fill="#333" stroke="#333" stroke-width="0.12" textLength="4.00" lengthAdjust="spacingAndGlyphs" >0</text>
<path d="M216.30,222.20 H218.70" stroke="#111" stroke-width="1"/>
<text x="212.70" y="225.10" font-size="8.2" text-anchor="end" font-weight="normal" font-style="normal" fill="#333" stroke="#333" stroke-width="0.12" textLength="8.00" lengthAdjust="spacingAndGlyphs" >25</text>
<path d="M216.30,201.20 H218.70" stroke="#111" stroke-width="1"/>
<text x="212.70" y="204.10" font-size="8.2" text-anchor="end" font-weight="normal" font-style="normal" fill="#333" stroke="#333" stroke-width="0.12" textLength="8.00" lengthAdjust="spacingAndGlyphs" >50</text>
<path d="M216.30,180.20 H218.70" stroke="#111" stroke-width="1"/>
<text x="212.70" y="183.10" font-size="8.2" text-anchor="end" font-weight="normal" font-style="normal" fill="#333" stroke="#333" stroke-width="0.12" textLength="8.00" lengthAdjust="spacingAndGlyphs" >75</text>
<path d="M216.30,159.20 H218.70" stroke="#111" stroke-width="1"/>
<text x="212.70" y="162.10" font-size="8.2" text-anchor="end" font-weight="normal" font-style="normal" fill="#333" stroke="#333" stroke-width="0.12" textLength="12.00" lengthAdjust="spacingAndGlyphs" >100</text>
<path d="M218.70,243.20 V245.80" stroke="#111" stroke-width="1"/>
<text x="218.70" y="255.70" font-size="8.2" text-anchor="middle" font-weight="normal" font-style="normal" fill="#333" stroke="#333" stroke-width="0.12" textLength="4.00" lengthAdjust="spacingAndGlyphs" >0</text>
<path d="M246.25,243.20 V245.80" stroke="#111" stroke-width="1"/>
<text x="246.25" y="255.70" font-size="8.2" text-anchor="middle" font-weight="normal" font-style="normal" fill="#333" stroke="#333" stroke-width="0.12" textLength="8.00" lengthAdjust="spacingAndGlyphs" >50</text>
<path d="M273.80,243.20 V245.80" stroke="#111" stroke-width="1"/>
<text x="273.80" y="255.70" font-size="8.2" text-anchor="middle" font-weight="normal" font-style="normal" fill="#333" stroke="#333" stroke-width="0.12" textLength="12.00" lengthAdjust="spacingAndGlyphs" >100</text>
<path d="M301.35,243.20 V245.80" stroke="#111" stroke-width="1"/>
<text x="301.35" y="255.70" font-size="8.2" text-anchor="middle" font-weight="normal" font-style="normal" fill="#333" stroke="#333" stroke-width="0.12" textLength="12.00" lengthAdjust="spacingAndGlyphs" >150</text>
<path d="M328.90,243.20 V245.80" stroke="#111" stroke-width="1"/>
<text x="328.90" y="255.70" font-size="8.2" text-anchor="middle" font-weight="normal" font-style="normal" fill="#333" stroke="#333" stroke-width="0.12" textLength="12.00" lengthAdjust="spacingAndGlyphs" >200</text>
<text x="281.90" y="269.30" font-size="8.8" text-anchor="middle" font-weight="normal" font-style="normal" fill="#333" stroke="#333" stroke-width="0.22" textLength="27.00" lengthAdjust="spacingAndGlyphs" >Time (h)</text>
<polyline points="218.70,159.20 245.15,211.28 271.60,226.40 311.27,235.64 324.49,239.00 337.72,240.68" fill="none" stroke="#4a2c55" stroke-width="1.2" stroke-dasharray="1.3,1.6"/>
<circle cx="218.70" cy="159.20" r="1.9" fill="#f1e6f0" stroke="#4a2c55" stroke-width="1.1"/>
<circle cx="245.15" cy="211.28" r="1.9" fill="#f1e6f0" stroke="#4a2c55" stroke-width="1.1"/>
<circle cx="271.60" cy="226.40" r="1.9" fill="#f1e6f0" stroke="#4a2c55" stroke-width="1.1"/>
<circle cx="311.27" cy="235.64" r="1.9" fill="#f1e6f0" stroke="#4a2c55" stroke-width="1.1"/>
<circle cx="324.49" cy="239.00" r="1.9" fill="#f1e6f0" stroke="#4a2c55" stroke-width="1.1"/>
<circle cx="337.72" cy="240.68" r="1.9" fill="#f1e6f0" stroke="#4a2c55" stroke-width="1.1"/>
<polyline points="218.70,159.20 245.15,203.72 271.60,218.00 311.27,232.28 324.49,238.16 337.72,239.84" fill="none" stroke="#b2203e" stroke-width="1.5"/>
<rect x="216.80" y="157.30" width="3.8" height="3.8" fill="#c44a62" stroke="#b2203e" stroke-width="1.1"/>
<rect x="243.25" y="201.82" width="3.8" height="3.8" fill="#c44a62" stroke="#b2203e" stroke-width="1.1"/>
<rect x="269.70" y="216.10" width="3.8" height="3.8" fill="#c44a62" stroke="#b2203e" stroke-width="1.1"/>
<rect x="309.37" y="230.38" width="3.8" height="3.8" fill="#c44a62" stroke="#b2203e" stroke-width="1.1"/>
<rect x="322.59" y="236.26" width="3.8" height="3.8" fill="#c44a62" stroke="#b2203e" stroke-width="1.1"/>
<rect x="335.82" y="237.94" width="3.8" height="3.8" fill="#c44a62" stroke="#b2203e" stroke-width="1.1"/>
<polyline points="218.70,159.20 245.15,194.48 271.60,207.08 311.27,226.40 324.49,234.80 337.72,239.84" fill="none" stroke="#2c4868" stroke-width="1.5"/>
<path d="M216.40,157.60 L221.00,157.60 L218.70,161.40Z" fill="#2c4868"/>
<path d="M242.85,192.88 L247.45,192.88 L245.15,196.68Z" fill="#2c4868"/>
<path d="M269.30,205.48 L273.90,205.48 L271.60,209.28Z" fill="#2c4868"/>
<path d="M308.97,224.80 L313.57,224.80 L311.27,228.60Z" fill="#2c4868"/>
<path d="M322.19,233.20 L326.79,233.20 L324.49,237.00Z" fill="#2c4868"/>
<path d="M335.42,238.24 L340.02,238.24 L337.72,242.04Z" fill="#2c4868"/>
<polyline points="218.70,159.20 245.15,193.64 271.60,206.24 311.27,226.40 324.49,234.80 337.72,239.84" fill="none" stroke="#62a84a" stroke-width="1.5"/>
<rect x="216.80" y="157.30" width="3.8" height="3.8" fill="#b8dca4" stroke="#62a84a" stroke-width="1.1"/>
<rect x="243.25" y="191.74" width="3.8" height="3.8" fill="#b8dca4" stroke="#62a84a" stroke-width="1.1"/>
<rect x="269.70" y="204.34" width="3.8" height="3.8" fill="#b8dca4" stroke="#62a84a" stroke-width="1.1"/>
<rect x="309.37" y="224.50" width="3.8" height="3.8" fill="#b8dca4" stroke="#62a84a" stroke-width="1.1"/>
<rect x="322.59" y="232.90" width="3.8" height="3.8" fill="#b8dca4" stroke="#62a84a" stroke-width="1.1"/>
<rect x="335.82" y="237.94" width="3.8" height="3.8" fill="#b8dca4" stroke="#62a84a" stroke-width="1.1"/>
<path d="M241,193 V204.8 M239.4,193 H242.6 M239.4,204.8 H242.6" stroke="#222" stroke-width="0.9" fill="none"/>
<path d="M250.4,193 V211.5 M248.8,193 H252.0 M248.8,211.5 H252.0" stroke="#222" stroke-width="0.9" fill="none"/>
<path d="M267.3,206 V217 M265.7,206 H268.90000000000003 M265.7,217 H268.90000000000003" stroke="#222" stroke-width="0.9" fill="none"/>
<path d="M277.5,207 V225.4 M275.9,207 H279.1 M275.9,225.4 H279.1" stroke="#222" stroke-width="0.9" fill="none"/>
<path d="M310.4,225.4 V234 M308.79999999999995,225.4 H312.0 M308.79999999999995,234 H312.0" stroke="#222" stroke-width="0.9" fill="none"/>
<path d="M318,225.4 V236 M316.4,225.4 H319.6 M316.4,236 H319.6" stroke="#222" stroke-width="0.9" fill="none"/>
<text x="238.00" y="201.00" font-size="6" text-anchor="middle" font-weight="normal" font-style="normal" fill="#222" stroke="#222" stroke-width="0.22" >*</text>
<text x="263.30" y="213.00" font-size="6" text-anchor="middle" font-weight="normal" font-style="normal" fill="#222" stroke="#222" stroke-width="0.22" >*</text>
<text x="247.50" y="206.00" font-size="6" text-anchor="middle" font-weight="normal" font-style="normal" fill="#222" stroke="#222" stroke-width="0.22" >*</text>
<text x="273.00" y="215.00" font-size="6" text-anchor="middle" font-weight="normal" font-style="normal" fill="#222" stroke="#222" stroke-width="0.22" >*</text>
<text transform="translate(193.30,199.60) rotate(-90)" x="0" y="0" font-size="8.4" text-anchor="middle" fill="#333" stroke="#333" stroke-width="0.22" textLength="35.00" lengthAdjust="spacingAndGlyphs">GPIbα (%)</text>
<path d="M387.10,156.50 V243.20 H511.70" fill="none" stroke="#111" stroke-width="1.2"/>
<path d="M384.70,243.20 H387.10" stroke="#111" stroke-width="1"/>
<text x="381.10" y="246.10" font-size="8.2" text-anchor="end" font-weight="normal" font-style="normal" fill="#333" stroke="#333" stroke-width="0.12" textLength="4.00" lengthAdjust="spacingAndGlyphs" >0</text>
<path d="M384.70,222.20 H387.10" stroke="#111" stroke-width="1"/>
<text x="381.10" y="225.10" font-size="8.2" text-anchor="end" font-weight="normal" font-style="normal" fill="#333" stroke="#333" stroke-width="0.12" textLength="8.00" lengthAdjust="spacingAndGlyphs" >25</text>
<path d="M384.70,201.20 H387.10" stroke="#111" stroke-width="1"/>
<text x="381.10" y="204.10" font-size="8.2" text-anchor="end" font-weight="normal" font-style="normal" fill="#333" stroke="#333" stroke-width="0.12" textLength="8.00" lengthAdjust="spacingAndGlyphs" >50</text>
<path d="M384.70,180.20 H387.10" stroke="#111" stroke-width="1"/>
<text x="381.10" y="183.10" font-size="8.2" text-anchor="end" font-weight="normal" font-style="normal" fill="#333" stroke="#333" stroke-width="0.12" textLength="8.00" lengthAdjust="spacingAndGlyphs" >75</text>
<path d="M384.70,159.20 H387.10" stroke="#111" stroke-width="1"/>
<text x="381.10" y="162.10" font-size="8.2" text-anchor="end" font-weight="normal" font-style="normal" fill="#333" stroke="#333" stroke-width="0.12" textLength="12.00" lengthAdjust="spacingAndGlyphs" >100</text>
<path d="M387.10,243.20 V245.80" stroke="#111" stroke-width="1"/>
<text x="387.10" y="255.70" font-size="8.2" text-anchor="middle" font-weight="normal" font-style="normal" fill="#333" stroke="#333" stroke-width="0.12" textLength="4.00" lengthAdjust="spacingAndGlyphs" >0</text>
<path d="M414.75,243.20 V245.80" stroke="#111" stroke-width="1"/>
<text x="414.75" y="255.70" font-size="8.2" text-anchor="middle" font-weight="normal" font-style="normal" fill="#333" stroke="#333" stroke-width="0.12" textLength="8.00" lengthAdjust="spacingAndGlyphs" >50</text>
<path d="M442.40,243.20 V245.80" stroke="#111" stroke-width="1"/>
<text x="442.40" y="255.70" font-size="8.2" text-anchor="middle" font-weight="normal" font-style="normal" fill="#333" stroke="#333" stroke-width="0.12" textLength="12.00" lengthAdjust="spacingAndGlyphs" >100</text>
<path d="M470.05,243.20 V245.80" stroke="#111" stroke-width="1"/>
<text x="470.05" y="255.70" font-size="8.2" text-anchor="middle" font-weight="normal" font-style="normal" fill="#333" stroke="#333" stroke-width="0.12" textLength="12.00" lengthAdjust="spacingAndGlyphs" >150</text>
<path d="M497.70,243.20 V245.80" stroke="#111" stroke-width="1"/>
<text x="497.70" y="255.70" font-size="8.2" text-anchor="middle" font-weight="normal" font-style="normal" fill="#333" stroke="#333" stroke-width="0.12" textLength="12.00" lengthAdjust="spacingAndGlyphs" >200</text>
<text x="449.30" y="269.30" font-size="8.8" text-anchor="middle" font-weight="normal" font-style="normal" fill="#333" stroke="#333" stroke-width="0.22" textLength="27.00" lengthAdjust="spacingAndGlyphs" >Time (h)</text>
<polyline points="387.10,241.52 413.64,238.16 440.19,233.12 480.00,217.16 493.28,207.08 506.55,192.80" fill="none" stroke="#4a2c55" stroke-width="1.2" stroke-dasharray="1.3,1.6"/>
<path d="M440.19,230.60 V235.64 M438.59,230.60 H441.79 M438.59,235.64 H441.79" stroke="#4a2c55" stroke-width="0.9" fill="none"/>
<path d="M480.00,214.64 V219.68 M478.40,214.64 H481.60 M478.40,219.68 H481.60" stroke="#4a2c55" stroke-width="0.9" fill="none"/>
<path d="M493.28,202.88 V211.28 M491.68,202.88 H494.88 M491.68,211.28 H494.88" stroke="#4a2c55" stroke-width="0.9" fill="none"/>
<path d="M506.55,188.60 V197.00 M504.95,188.60 H508.15 M504.95,197.00 H508.15" stroke="#4a2c55" stroke-width="0.9" fill="none"/>
<circle cx="387.10" cy="241.52" r="1.9" fill="#f1e6f0" stroke="#4a2c55" stroke-width="1.1"/>
<circle cx="413.64" cy="238.16" r="1.9" fill="#f1e6f0" stroke="#4a2c55" stroke-width="1.1"/>
<circle cx="440.19" cy="233.12" r="1.9" fill="#f1e6f0" stroke="#4a2c55" stroke-width="1.1"/>
<circle cx="480.00" cy="217.16" r="1.9" fill="#f1e6f0" stroke="#4a2c55" stroke-width="1.1"/>
<circle cx="493.28" cy="207.08" r="1.9" fill="#f1e6f0" stroke="#4a2c55" stroke-width="1.1"/>
<circle cx="506.55" cy="192.80" r="1.9" fill="#f1e6f0" stroke="#4a2c55" stroke-width="1.1"/>
<polyline points="387.10,241.52 413.64,236.48 440.19,235.64 480.00,224.72 493.28,219.68 506.55,203.72" fill="none" stroke="#2c4868" stroke-width="1.5"/>
<path d="M413.64,234.80 V238.16 M412.04,234.80 H415.24 M412.04,238.16 H415.24" stroke="#2c4868" stroke-width="0.9" fill="none"/>
<path d="M440.19,233.12 V238.16 M438.59,233.12 H441.79 M438.59,238.16 H441.79" stroke="#2c4868" stroke-width="0.9" fill="none"/>
<path d="M480.00,220.52 V228.92 M478.40,220.52 H481.60 M478.40,228.92 H481.60" stroke="#2c4868" stroke-width="0.9" fill="none"/>
<path d="M493.28,214.64 V224.72 M491.68,214.64 H494.88 M491.68,224.72 H494.88" stroke="#2c4868" stroke-width="0.9" fill="none"/>
<path d="M506.55,198.68 V208.76 M504.95,198.68 H508.15 M504.95,208.76 H508.15" stroke="#2c4868" stroke-width="0.9" fill="none"/>
<path d="M384.80,239.92 L389.40,239.92 L387.10,243.72Z" fill="#2c4868"/>
<path d="M411.34,234.88 L415.94,234.88 L413.64,238.68Z" fill="#2c4868"/>
<path d="M437.89,234.04 L442.49,234.04 L440.19,237.84Z" fill="#2c4868"/>
<path d="M477.70,223.12 L482.30,223.12 L480.00,226.92Z" fill="#2c4868"/>
<path d="M490.98,218.08 L495.58,218.08 L493.28,221.88Z" fill="#2c4868"/>
<path d="M504.25,202.12 L508.85,202.12 L506.55,205.92Z" fill="#2c4868"/>
<polyline points="387.10,241.52 413.64,239.00 440.19,235.64 480.00,219.68 493.28,211.28 506.55,197.00" fill="none" stroke="#b2203e" stroke-width="1.5"/>
<rect x="385.20" y="239.62" width="3.8" height="3.8" fill="#c44a62" stroke="#b2203e" stroke-width="1.1"/>
<rect x="411.74" y="237.10" width="3.8" height="3.8" fill="#c44a62" stroke="#b2203e" stroke-width="1.1"/>
<rect x="438.29" y="233.74" width="3.8" height="3.8" fill="#c44a62" stroke="#b2203e" stroke-width="1.1"/>
<rect x="478.10" y="217.78" width="3.8" height="3.8" fill="#c44a62" stroke="#b2203e" stroke-width="1.1"/>
<rect x="491.38" y="209.38" width="3.8" height="3.8" fill="#c44a62" stroke="#b2203e" stroke-width="1.1"/>
<rect x="504.65" y="195.10" width="3.8" height="3.8" fill="#c44a62" stroke="#b2203e" stroke-width="1.1"/>
<polyline points="387.10,241.52 413.64,239.00 440.19,237.32 480.00,223.88 493.28,213.80 506.55,195.32" fill="none" stroke="#62a84a" stroke-width="1.5"/>
<path d="M413.64,237.32 V240.68 M412.04,237.32 H415.24 M412.04,240.68 H415.24" stroke="#62a84a" stroke-width="0.9" fill="none"/>
<path d="M440.19,235.64 V239.00 M438.59,235.64 H441.79 M438.59,239.00 H441.79" stroke="#62a84a" stroke-width="0.9" fill="none"/>
<path d="M480.00,218.84 V228.92 M478.40,218.84 H481.60 M478.40,228.92 H481.60" stroke="#62a84a" stroke-width="0.9" fill="none"/>
<path d="M493.28,209.60 V218.00 M491.68,209.60 H494.88 M491.68,218.00 H494.88" stroke="#62a84a" stroke-width="0.9" fill="none"/>
<path d="M506.55,191.12 V199.52 M504.95,191.12 H508.15 M504.95,199.52 H508.15" stroke="#62a84a" stroke-width="0.9" fill="none"/>
<rect x="385.20" y="239.62" width="3.8" height="3.8" fill="#b8dca4" stroke="#62a84a" stroke-width="1.1"/>
<rect x="411.74" y="237.10" width="3.8" height="3.8" fill="#b8dca4" stroke="#62a84a" stroke-width="1.1"/>
<rect x="438.29" y="235.42" width="3.8" height="3.8" fill="#b8dca4" stroke="#62a84a" stroke-width="1.1"/>
<rect x="478.10" y="221.98" width="3.8" height="3.8" fill="#b8dca4" stroke="#62a84a" stroke-width="1.1"/>
<rect x="491.38" y="211.90" width="3.8" height="3.8" fill="#b8dca4" stroke="#62a84a" stroke-width="1.1"/>
<rect x="504.65" y="193.42" width="3.8" height="3.8" fill="#b8dca4" stroke="#62a84a" stroke-width="1.1"/>
<text transform="translate(361.50,202.30) rotate(-90)" x="0" y="0" font-size="8.4" text-anchor="middle" fill="#333" stroke="#333" stroke-width="0.22" textLength="40.30" lengthAdjust="spacingAndGlyphs">P-selectin (%)</text>
<text x="6.80" y="16.60" font-size="11.8" text-anchor="start" font-weight="bold" font-style="normal" fill="#111" stroke="#111" stroke-width="0.22" >A</text>
<text x="185.40" y="16.60" font-size="11.8" text-anchor="start" font-weight="bold" font-style="normal" fill="#111" stroke="#111" stroke-width="0.22" >B</text>
<text x="353.90" y="16.70" font-size="11.8" text-anchor="start" font-weight="bold" font-style="normal" fill="#111" stroke="#111" stroke-width="0.22" >C</text>
<text x="6.90" y="151.80" font-size="11.8" text-anchor="start" font-weight="bold" font-style="normal" fill="#111" stroke="#111" stroke-width="0.22" >D</text>
<text x="185.50" y="151.80" font-size="11.8" text-anchor="start" font-weight="bold" font-style="normal" fill="#111" stroke="#111" stroke-width="0.22" >E</text>
<text x="354.10" y="151.80" font-size="11.8" text-anchor="start" font-weight="bold" font-style="normal" fill="#111" stroke="#111" stroke-width="0.22" >F</text>
<text x="63.60" y="299.20" font-size="11.8" text-anchor="start" font-weight="bold" font-style="normal" fill="#111" stroke="#111" stroke-width="0.22" >G</text>
<text x="88.40" y="295.90" font-size="7.5" text-anchor="start" font-weight="bold" font-style="normal" fill="#111" stroke="#111" stroke-width="0.22" textLength="64.00" lengthAdjust="spacingAndGlyphs" >1) Platelet storage</text>
<text x="88.00" y="381.30" font-size="7.5" text-anchor="start" font-weight="bold" font-style="normal" fill="#111" stroke="#111" stroke-width="0.22" textLength="67.00" lengthAdjust="spacingAndGlyphs" >2) Platelet function</text>
<rect x="114.6" y="305.4" width="29.4" height="55.6" rx="3.2" fill="#eceff4" stroke="#7d8698" stroke-width="0.85"/>
<path d="M120.6,307.5 H137.9 L143.5,314.4 V351 Q143.5,356 140.8,357.4 Q129.5,354.8 118.2,357.4 Q115.1,356 115.1,351 V315.6 Z" fill="#ecd57a" stroke="#c2a552" stroke-width="0.6"/>
<path d="M121.4,309.8 H137.0 L141.6,315.4 V349.5 Q141.6,353.6 139.6,354.9 Q129.5,352.9 119.4,354.9 Q117.1,353.6 117.1,349.5 V316.4 Z" fill="none" stroke="#f5e3a2" stroke-width="1.1"/>
<path d="M119.6,317.4 Q129,312.8 139,317.4" fill="none" stroke="#f5e3a2" stroke-width="1.0"/>
<path d="M135.8,318 Q140.8,319.5 140.6,326 Q139.8,336 140.8,346 Q141.2,351 139.8,353 L138.2,352.6 Q139.2,346 138.4,336 Q137.6,326 138.8,321 Q138.6,319.2 135.8,318Z" fill="#f8eab6"/>
<ellipse cx="129.5" cy="358.7" rx="11" ry="2.2" fill="#f3f4f7" stroke="#c6cad2" stroke-width="0.5"/>
<ellipse cx="129.5" cy="359.0" rx="2.6" ry="1.0" fill="#bfc3cb"/>
<path d="M125.10000000000001,305.6 V303.4 Q126.2,301.2 127.3,303.4 V305.6Z" fill="#a6afc0" stroke="#7d879a" stroke-width="0.5"/>
<path d="M130.8,305.6 V303.4 Q131.9,301.2 133.0,303.4 V305.6Z" fill="#a6afc0" stroke="#7d879a" stroke-width="0.5"/>
<path d="M152,308.9 H187.5" stroke="#111" stroke-width="1.2"/>
<path d="M186.5,306.7 L191.2,308.9 L186.5,311.1Z" fill="#111"/>
<path d="M152,330.5 H187.5" stroke="#111" stroke-width="1.2"/>
<path d="M186.5,328.3 L191.2,330.5 L186.5,332.7Z" fill="#111"/>
<path d="M152,352.1 H187.5" stroke="#111" stroke-width="1.2"/>
<path d="M186.5,349.9 L191.2,352.1 L186.5,354.3Z" fill="#111"/>
<text x="170.00" y="304.80" font-size="7.4" text-anchor="middle" font-weight="normal" font-style="normal" fill="#222" stroke="#222" stroke-width="0.22" textLength="16.30" lengthAdjust="spacingAndGlyphs" >22°C</text>
<text x="170.00" y="326.40" font-size="7.4" text-anchor="middle" font-weight="normal" font-style="normal" fill="#222" stroke="#222" stroke-width="0.22" textLength="16.30" lengthAdjust="spacingAndGlyphs" >37°C</text>
<text x="148.00" y="347.80" font-size="7.4" text-anchor="start" font-weight="normal" font-style="normal" fill="#222" stroke="#222" stroke-width="0.22" textLength="43.00" lengthAdjust="spacingAndGlyphs" >Rejuvenation</text>
<rect x="197.2" y="299.5" width="160.9" height="18.8" rx="2.4" fill="#c6decd"/>
<rect x="197.2" y="320.8" width="160.9" height="19.4" rx="2.4" fill="#c6decd"/>
<rect x="197.2" y="342.5" width="160.9" height="19.5" rx="2.4" fill="#c6decd"/>
<text x="206.20" y="311.00" font-size="7.2" text-anchor="start" font-weight="normal" font-style="normal" fill="#333" stroke="#333" stroke-width="0.22" textLength="143.00" lengthAdjust="spacingAndGlyphs" >PSL despite absence of intrinsic apoptosis.</text>
<text x="206.20" y="328.10" font-size="7.2" text-anchor="start" font-weight="normal" font-style="normal" fill="#333" stroke="#333" stroke-width="0.22" textLength="129.20" lengthAdjust="spacingAndGlyphs" >Induction of intrinsic apoptosis, but no</text>
<text x="206.20" y="337.60" font-size="7.2" text-anchor="start" font-weight="normal" font-style="normal" fill="#333" stroke="#333" stroke-width="0.22" textLength="115.30" lengthAdjust="spacingAndGlyphs" >significant contribution to the PSL.</text>
<text x="206.20" y="350.40" font-size="7.2" text-anchor="start" font-weight="normal" font-style="normal" fill="#333" stroke="#333" stroke-width="0.22" textLength="126.00" lengthAdjust="spacingAndGlyphs" >Delay of PSL, independent of intrinsic</text>
<text x="206.20" y="359.30" font-size="7.2" text-anchor="start" font-weight="normal" font-style="normal" fill="#333" stroke="#333" stroke-width="0.22" textLength="34.00" lengthAdjust="spacingAndGlyphs" >apoptosis.</text>
<circle cx="380.8" cy="317.2" r="6.7" fill="#e88c2c" stroke="#1a1a1a" stroke-width="1.4"/>
<circle cx="399.3" cy="317.2" r="6.7" fill="#e88c2c" stroke="#1a1a1a" stroke-width="1.4"/>
<text x="380.8" y="318.5" font-size="3.6" text-anchor="middle" fill="#4a2a10">Bak</text>
<text x="399.3" y="318.5" font-size="3.6" text-anchor="middle" fill="#4a2a10">Bax</text>
<path d="M379.25,306.2 L400.85,327.6 M400.85,306.2 L379.25,327.6" stroke="#e2281e" stroke-width="2.8" opacity="0.95"/>
<path d="M390.4,329.4 V337" stroke="#111" stroke-width="1.1"/>
<path d="M388.2,336.2 L390.4,340.0 L392.6,336.2Z" fill="#111"/>
<rect x="366.8" y="342.7" width="46.4" height="9.7" rx="0.8" fill="#fff" stroke="#111" stroke-width="1.2"/>
<text x="390.00" y="350.10" font-size="6.8" text-anchor="middle" font-weight="bold" font-style="normal" fill="#111" stroke="#111" stroke-width="0.22" textLength="39.20" lengthAdjust="spacingAndGlyphs" >NO BENEFIT</text>
<defs><linearGradient id="rp" x1="0" y1="0" x2="0" y2="1"><stop offset="0" stop-color="#e4ecf8"/><stop offset="0.5" stop-color="#c4d3ea"/><stop offset="1" stop-color="#a9bde0"/></linearGradient>
<radialGradient id="ap" cx="0.4" cy="0.4" r="0.7"><stop offset="0" stop-color="#e6eefa"/><stop offset="1" stop-color="#b5c7e6"/></radialGradient></defs>
<ellipse cx="173.8" cy="402.4" rx="11.9" ry="4.1" transform="rotate(-42 173.8 402.4)" fill="url(#rp)" stroke="#8fa6c8" stroke-width="0.7"/>
<ellipse cx="200.1" cy="411.2" rx="11.5" ry="4.6" transform="rotate(3 200.1 411.2)" fill="url(#rp)" stroke="#8fa6c8" stroke-width="0.7"/>
<ellipse cx="169.6" cy="421.4" rx="11.9" ry="4.3" transform="rotate(18 169.6 421.4)" fill="url(#rp)" stroke="#8fa6c8" stroke-width="0.7"/>
<ellipse cx="344.4" cy="383.3" rx="9.4" ry="4.0" transform="rotate(0 344.4 383.3)" fill="url(#rp)" stroke="#8fa6c8" stroke-width="0.7"/>
<polygon points="352.69,396.40 353.00,397.51 352.52,398.54 351.40,399.25 350.32,399.79 350.02,400.97 349.17,401.86 347.89,402.19 346.51,401.91 345.32,401.55 344.02,402.10 342.64,402.10 341.53,401.48 340.93,400.42 340.53,399.43 339.21,398.93 338.35,398.05 338.23,396.95 338.88,395.90 339.56,395.03 339.21,393.87 339.51,392.76 340.49,392.00 341.88,391.76 343.14,391.66 344.02,390.70 345.26,390.21 346.59,390.37 347.69,391.11 348.57,391.86 350.02,391.83 351.27,392.32 351.95,393.28 351.92,394.45 351.76,395.48" fill="url(#ap)" stroke="#98acd0" stroke-width="0.6" stroke-linejoin="round" />
<polygon points="352.92,411.00 352.58,412.04 351.59,412.84 350.96,413.62 350.87,414.77 350.17,415.68 348.96,416.11 347.58,415.98 346.44,416.07 345.29,416.72 343.97,416.84 342.81,416.34 342.08,415.37 341.28,414.69 339.94,414.37 339.00,413.60 338.76,412.54 339.23,411.47 339.38,410.54 338.85,409.48 339.00,408.40 339.86,407.59 341.18,407.22 342.16,406.73 342.85,405.73 343.97,405.16 345.28,405.20 346.46,405.81 347.53,406.14 348.92,405.96 350.17,406.32 350.94,407.18 351.09,408.32 351.45,409.20 352.49,409.98" fill="#dde0f4" stroke="#e8d04a" stroke-width="1.8" stroke-linejoin="round" />
<path d="M180.0,444.2 Q181.7,451.5 182.8,450.5 Q183.9,449.5 185.6,444.2 M185.9,443.5 Q188.5,452.0 190.2,451.0 Q191.9,450.0 194.5,443.5 M192.5,444.3 Q194.1,452.5 195.1,451.5 Q196.1,450.5 197.7,444.3 M197.1,444.6 Q199.5,451.8 201.1,450.8 Q202.7,449.8 205.0,444.6 M203.4,443.9 Q205.5,450.4 206.9,449.4 Q208.3,448.4 210.4,443.9 M210.5,444.4 Q212.5,453.1 213.8,452.1 Q215.1,451.1 217.0,444.4 M216.9,443.7 Q219.2,451.2 220.7,450.2 Q222.3,449.2 224.6,443.7 M224.1,444.1 Q225.9,450.4 227.1,449.4 Q228.4,448.4 230.2,444.1 M229.1,443.9 Q230.8,453.2 232.0,452.2 Q233.1,451.2 234.9,443.9 M235.2,444.8 Q237.2,450.2 238.5,449.2 Q239.8,448.2 241.7,444.8 M241.1,443.5 Q243.7,451.7 245.4,450.7 Q247.1,449.7 249.7,443.5 M247.8,444.4 Q250.0,450.5 251.4,449.5 Q252.9,448.5 255.1,444.4 M255.0,443.8 Q256.6,450.0 257.7,449.0 Q258.8,448.0 260.4,443.8 M260.1,443.5 Q262.2,450.3 263.6,449.3 Q265.0,448.3 267.1,443.5 M267.2,444.1 Q269.5,451.6 271.0,450.6 Q272.5,449.6 274.8,444.1 M273.1,444.4 Q275.3,450.7 276.8,449.7 Q278.3,448.7 280.5,444.4 M280.5,443.6 Q282.8,452.2 284.3,451.2 Q285.7,450.2 288.0,443.6 M286.4,443.9 Q289.1,454.0 290.9,453.0 Q292.7,452.0 295.4,443.9 M293.4,444.6 Q295.2,453.8 296.4,452.8 Q297.6,451.8 299.4,444.6 M299.1,443.6 Q301.4,451.5 302.9,450.5 Q304.5,449.5 306.8,443.6 M306.0,444.7 Q308.0,450.3 309.2,449.3 Q310.5,448.3 312.4,444.7 M312.6,444.4 Q314.5,451.8 315.9,450.8 Q317.2,449.8 319.2,444.4 M319.5,444.4 Q321.9,450.1 323.6,449.1 Q325.2,448.1 327.7,444.4 M326.3,444.2 Q328.3,450.9 329.7,449.9 Q331.0,448.9 333.1,444.2 M332.0,443.6 Q333.6,452.5 334.7,451.5 Q335.8,450.5 337.4,443.6 M337.7,443.5 Q340.1,453.1 341.8,452.1 Q343.4,451.1 345.9,443.5 M344.8,444.6 Q347.2,451.0 348.8,450.0 Q350.4,449.0 352.8,444.6 M351.6,443.8 Q353.6,453.9 354.9,452.9 Q356.3,451.9 358.2,443.8 M357.3,444.8 Q359.6,451.5 361.2,450.5 Q362.7,449.5 365.0,444.8 M363.4,444.8 Q365.0,451.0 366.0,450.0 Q367.1,449.0 368.6,444.8 M369.3,443.8 Q372.0,453.8 373.7,452.8 Q375.5,451.8 378.2,443.8 M377.2,443.5 Q378.9,450.2 380.1,449.2 Q381.3,448.2 383.0,443.5 M382.4,444.4 Q384.3,453.9 385.6,452.9 Q386.8,451.9 388.8,444.4 M387.4,444.3 Q389.1,450.5 390.1,449.5 Q391.2,448.5 392.8,444.3 M392.6,444.5 Q394.6,450.3 396.0,449.3 Q397.3,448.3 399.4,444.5 M399.1,444.6 Q401.6,451.5 403.4,450.5 Q405.1,449.5 407.6,444.6 M405.8,444.6 Q408.4,453.1 410.1,452.1 Q411.8,451.1 414.4,444.6 M413.2,443.6 Q415.3,450.2 416.8,449.2 Q418.2,448.2 420.3,443.6 M418.9,444.4 Q421.3,450.3 423.0,449.3 Q424.6,448.3 427.0,444.4" fill="none" stroke="#b0b0b0" stroke-width="0.8"/>
<path d="M185.0,444.5 Q187.0,451.5 188.4,450.5 Q189.8,449.5 191.8,444.5 M191.2,445.1 Q193.3,451.4 194.7,450.4 Q196.1,449.4 198.2,445.1 M198.3,445.3 Q199.9,454.5 200.9,453.5 Q201.9,452.5 203.4,445.3 M204.2,445.8 Q206.3,452.9 207.7,451.9 Q209.1,450.9 211.2,445.8 M210.5,445.9 Q212.8,451.0 214.3,450.0 Q215.8,449.0 218.1,445.9 M217.3,445.0 Q219.7,453.6 221.2,452.6 Q222.8,451.6 225.2,445.0 M223.4,445.5 Q225.5,452.6 226.9,451.6 Q228.3,450.6 230.4,445.5 M229.9,444.6 Q231.9,453.2 233.2,452.2 Q234.5,451.2 236.4,444.6 M236.5,444.8 Q238.9,454.0 240.5,453.0 Q242.1,452.0 244.5,444.8 M243.7,445.8 Q246.0,450.9 247.4,449.9 Q248.9,448.9 251.1,445.8 M250.5,445.5 Q252.1,452.4 253.1,451.4 Q254.2,450.4 255.8,445.5 M254.8,445.4 Q256.4,451.5 257.5,450.5 Q258.5,449.5 260.1,445.4 M259.5,445.2 Q261.0,452.9 262.0,451.9 Q263.1,450.9 264.6,445.2 M264.9,445.0 Q266.4,453.9 267.4,452.9 Q268.4,451.9 269.9,445.0 M270.6,445.4 Q273.2,454.7 275.0,453.7 Q276.8,452.7 279.5,445.4 M278.9,444.7 Q280.7,452.1 281.9,451.1 Q283.1,450.1 284.9,444.7 M284.9,444.8 Q286.6,451.6 287.7,450.6 Q288.7,449.6 290.4,444.8 M289.3,445.9 Q291.2,454.7 292.5,453.7 Q293.8,452.7 295.7,445.9 M295.6,445.2 Q297.5,452.8 298.8,451.8 Q300.1,450.8 302.1,445.2 M301.7,444.9 Q303.9,451.8 305.3,450.8 Q306.7,449.8 308.8,444.9 M307.4,445.2 Q309.0,454.5 310.0,453.5 Q311.0,452.5 312.5,445.2 M311.5,445.7 Q313.3,451.0 314.5,450.0 Q315.7,449.0 317.5,445.7 M317.7,445.4 Q319.2,451.6 320.3,450.6 Q321.3,449.6 322.9,445.4 M322.1,445.0 Q324.8,454.0 326.6,453.0 Q328.4,452.0 331.0,445.0 M330.4,445.9 Q332.9,454.5 334.6,453.5 Q336.3,452.5 338.9,445.9 M338.6,446.0 Q340.5,451.1 341.7,450.1 Q343.0,449.1 344.9,446.0 M343.8,445.4 Q345.7,452.7 347.0,451.7 Q348.3,450.7 350.2,445.4 M350.3,445.1 Q352.1,451.6 353.3,450.6 Q354.5,449.6 356.4,445.1 M355.8,445.4 Q357.8,453.0 359.2,452.0 Q360.5,451.0 362.5,445.4 M361.2,445.1 Q362.9,452.1 364.1,451.1 Q365.2,450.1 366.9,445.1 M366.6,444.8 Q368.9,453.6 370.4,452.6 Q371.9,451.6 374.2,444.8 M372.6,445.4 Q374.6,452.1 376.0,451.1 Q377.3,450.1 379.4,445.4 M378.9,445.6 Q381.3,454.3 382.8,453.3 Q384.4,452.3 386.8,445.6 M385.2,445.3 Q386.8,452.1 387.8,451.1 Q388.8,450.1 390.3,445.3 M390.2,445.2 Q392.0,454.2 393.3,453.2 Q394.6,452.2 396.4,445.2 M396.5,445.3 Q398.9,451.1 400.5,450.1 Q402.1,449.1 404.4,445.3 M403.0,445.3 Q404.5,451.0 405.5,450.0 Q406.5,449.0 408.1,445.3 M408.6,444.6 Q410.3,451.3 411.5,450.3 Q412.6,449.3 414.3,444.6 M413.1,445.7 Q415.3,454.7 416.9,453.7 Q418.4,452.7 420.7,445.7 M419.6,445.8 Q421.2,452.8 422.3,451.8 Q423.4,450.8 425.1,445.8" fill="none" stroke="#c2c2c2" stroke-width="0.7"/>
<path d="M184,449 Q194,452 204,448 T224,449 T244,447.5 T264,450 T284,448 T304,450.5 T324,448 T344,450 T364,448 T384,450 T404,448 T420,449" fill="none" stroke="#bdbdbd" stroke-width="0.8"/>
<path d="M188,446 Q198,444 210,447 T234,446 T258,447 T282,445.5 T306,447 T330,446 T354,447.5 T378,446 T402,447 T420,446" fill="none" stroke="#c8c8c8" stroke-width="0.7"/>
<path d="M150,437 Q146,440 150,443.5 Q153,446 160,446.5 H414 Q421.5,446 421.5,441 Q421.2,436.5 414,436 H392 Q388,435.5 384,430 Q380,427.5 375,430 Q371,435 366,435.5 H212 Q205,435 199,429.5 Q194,426.5 189,429.5 Q183,433 176,433 Q160,433 150,437Z" fill="#fbeade" stroke="#deb4a0" stroke-width="0.7"/>
<circle cx="193.8" cy="437.6" r="4.6" fill="#bcc2cc" stroke="#9aa0aa" stroke-width="0.6"/>
<circle cx="379.4" cy="438.6" r="5.0" fill="#bcc2cc" stroke="#9aa0aa" stroke-width="0.6"/>
<path d="M236.5,443.5 A55.5,42.5 0 0 1 347.5,443.5 Z" fill="#c3d1ea"/>
<polygon points="279.12,406.60 278.27,407.98 277.31,409.13 277.25,410.69 276.41,412.06 274.89,412.85 273.06,412.92 271.42,412.78 269.80,413.52 268.00,413.58 266.42,412.85 265.45,411.54 264.76,410.25 263.21,409.43 262.24,408.13 262.19,406.60 263.04,405.22 264.00,404.08 264.06,402.52 264.90,401.15 266.42,400.35 268.25,400.29 269.89,400.43 271.51,399.69 273.32,399.63 274.89,400.35 275.87,401.67 276.55,402.95 278.11,403.78 279.07,405.08" fill="url(#ap)" stroke="#a2b5d6" stroke-width="0.6" stroke-linejoin="round" />
<polygon points="288.70,406.75 289.32,407.97 289.21,409.24 288.32,410.26 286.92,410.83 285.98,411.60 285.26,412.78 284.03,413.49 282.55,413.53 281.15,412.94 279.87,412.79 278.34,413.04 276.92,412.67 275.96,411.70 275.63,410.40 274.96,409.44 273.78,408.57 273.24,407.39 273.53,406.14 274.51,405.10 274.96,404.06 275.02,402.73 275.76,401.63 277.08,401.04 278.63,401.05 279.87,400.71 281.12,399.92 282.58,399.73 283.94,400.25 284.90,401.30 285.98,401.91 287.48,402.25 288.57,403.12 288.95,404.35 288.59,405.65" fill="url(#ap)" stroke="#a2b5d6" stroke-width="0.6" stroke-linejoin="round" />
<polygon points="316.42,408.27 317.22,409.23 317.38,410.27 316.74,411.17 315.48,411.73 314.25,412.13 313.89,413.22 312.99,414.04 311.68,414.34 310.25,414.08 308.99,413.73 307.69,414.31 306.27,414.42 305.04,413.96 304.28,413.03 303.73,412.13 302.25,411.87 301.13,411.21 300.72,410.24 301.07,409.19 301.56,408.27 300.76,407.31 300.60,406.27 301.24,405.37 302.50,404.81 303.73,404.41 304.09,403.32 304.99,402.50 306.30,402.20 307.74,402.46 308.99,402.81 310.29,402.23 311.72,402.11 312.94,402.58 313.70,403.51 314.25,404.41 315.73,404.67 316.85,405.33 317.26,406.30 316.91,407.35" fill="url(#ap)" stroke="#a2b5d6" stroke-width="0.6" stroke-linejoin="round" />
<polygon points="302.76,408.41 301.81,409.60 301.46,410.77 301.28,412.16 300.32,413.30 298.74,413.89 296.96,413.84 295.49,414.18 293.87,414.76 292.14,414.67 290.70,413.89 289.87,412.65 288.76,411.82 287.31,411.01 286.54,409.78 286.69,408.41 287.63,407.23 287.99,406.05 288.16,404.66 289.13,403.52 290.70,402.94 292.48,402.98 293.95,402.64 295.57,402.06 297.31,402.15 298.74,402.94 299.57,404.17 300.68,405.00 302.13,405.82 302.90,407.04" fill="url(#ap)" stroke="#a2b5d6" stroke-width="0.6" stroke-linejoin="round" />
<polygon points="318.75,413.13 319.36,414.37 318.93,415.62 317.52,416.56 315.54,417.02 314.30,417.87 312.85,418.82 310.89,419.22 308.86,418.93 307.22,418.11 305.40,417.87 303.34,417.58 301.80,416.73 301.19,415.50 301.53,414.22 300.95,413.13 300.34,411.89 300.76,410.64 302.18,409.70 304.16,409.24 305.40,408.39 306.84,407.44 308.81,407.05 310.84,407.33 312.48,408.15 314.30,408.39 316.35,408.68 317.89,409.53 318.51,410.76 318.16,412.04" fill="url(#ap)" stroke="#a2b5d6" stroke-width="0.6" stroke-linejoin="round" />
<polygon points="329.44,413.49 330.30,414.95 330.21,416.51 329.04,417.81 327.09,418.54 325.10,418.89 323.77,420.15 321.84,420.88 319.69,420.80 317.83,419.95 316.41,418.89 314.23,418.70 312.38,417.86 311.40,416.48 311.50,414.90 312.07,413.49 311.21,412.04 311.30,410.47 312.47,409.17 314.42,408.44 316.41,408.09 317.74,406.83 319.67,406.11 321.83,406.18 323.68,407.03 325.10,408.09 327.28,408.29 329.13,409.13 330.11,410.50 330.01,412.08" fill="url(#ap)" stroke="#a2b5d6" stroke-width="0.6" stroke-linejoin="round" />
<polygon points="294.25,413.89 293.22,415.04 292.71,416.14 292.54,417.48 291.50,418.58 289.75,419.16 287.77,419.13 286.11,419.39 284.31,419.95 282.37,419.89 280.76,419.16 279.80,417.99 278.65,417.14 277.02,416.37 276.13,415.20 276.26,413.89 277.29,412.75 277.79,411.65 277.96,410.31 279.01,409.20 280.76,408.62 282.74,408.65 284.40,408.40 286.20,407.83 288.14,407.89 289.75,408.62 290.70,409.80 291.86,410.65 293.49,411.41 294.38,412.58" fill="url(#ap)" stroke="#a2b5d6" stroke-width="0.6" stroke-linejoin="round" />
<polygon points="309.37,414.42 308.79,415.61 307.48,416.53 307.10,417.62 306.81,418.92 305.73,419.90 304.08,420.32 302.27,420.14 300.86,420.61 299.28,421.25 297.56,421.25 296.08,420.58 295.13,419.44 293.76,418.93 292.08,418.44 291.00,417.46 290.80,416.20 291.44,414.96 291.13,413.86 290.62,412.60 291.00,411.37 292.24,410.48 293.97,410.06 294.96,409.20 296.00,408.13 297.56,407.58 299.29,407.72 300.82,408.45 302.37,408.47 304.17,408.39 305.73,408.93 306.66,410.01 306.83,411.33 307.77,412.22 308.98,413.20" fill="url(#ap)" stroke="#a2b5d6" stroke-width="0.6" stroke-linejoin="round" />
<polygon points="280.42,414.74 281.12,416.10 280.77,417.49 279.36,418.56 277.31,419.11 275.83,419.89 274.37,420.97 272.34,421.46 270.20,421.21 268.45,420.33 266.66,419.89 264.49,419.61 262.82,418.72 262.09,417.39 262.39,415.96 262.07,414.74 261.37,413.38 261.73,412.00 263.14,410.92 265.19,410.38 266.66,409.59 268.13,408.52 270.16,408.02 272.30,408.28 274.05,409.16 275.83,409.59 278.00,409.88 279.68,410.77 280.41,412.10 280.10,413.52" fill="url(#ap)" stroke="#a2b5d6" stroke-width="0.6" stroke-linejoin="round" />
<polygon points="268.14,415.21 268.75,416.56 268.34,417.92 266.96,418.95 265.01,419.46 263.76,420.36 262.34,421.40 260.40,421.84 258.40,421.54 256.78,420.64 255.00,420.36 252.96,420.05 251.44,419.13 250.82,417.80 251.15,416.40 250.61,415.21 250.00,413.85 250.41,412.49 251.80,411.46 253.75,410.96 255.00,410.05 256.42,409.01 258.35,408.57 260.36,408.87 261.98,409.77 263.76,410.05 265.79,410.37 267.32,411.29 267.94,412.62 267.61,414.02" fill="url(#ap)" stroke="#a2b5d6" stroke-width="0.6" stroke-linejoin="round" />
<polygon points="291.15,421.00 290.59,422.01 289.49,422.77 289.59,423.81 289.48,424.94 288.72,425.80 287.45,426.19 286.02,426.09 285.18,426.88 284.12,427.62 282.84,427.79 281.61,427.33 280.68,426.43 279.40,426.51 278.01,426.42 276.96,425.80 276.49,424.77 276.61,423.60 275.63,422.91 274.73,422.05 274.53,421.00 275.09,420.00 276.19,419.24 276.09,418.20 276.20,417.07 276.96,416.21 278.22,415.82 279.66,415.92 280.50,415.12 281.55,414.39 282.84,414.22 284.07,414.68 285.00,415.57 286.28,415.49 287.66,415.58 288.72,416.21 289.19,417.24 289.07,418.41 290.05,419.09 290.95,419.96" fill="url(#ap)" stroke="#a2b5d6" stroke-width="0.6" stroke-linejoin="round" />
<polygon points="280.04,421.39 279.01,422.36 279.40,423.47 279.50,424.69 278.84,425.71 277.55,426.28 275.98,426.37 275.29,427.38 274.29,428.30 272.94,428.64 271.53,428.30 270.34,427.47 268.96,427.79 267.46,427.87 266.21,427.33 265.50,426.28 265.39,425.01 264.14,424.45 263.01,423.64 262.59,422.54 263.01,421.39 264.04,420.43 263.65,419.32 263.55,418.10 264.21,417.08 265.50,416.51 267.07,416.42 267.76,415.40 268.76,414.48 270.11,414.15 271.53,414.48 272.71,415.32 274.09,415.00 275.59,414.92 276.84,415.46 277.55,416.51 277.66,417.78 278.91,418.34 280.04,419.15 280.46,420.25" fill="url(#ap)" stroke="#a2b5d6" stroke-width="0.6" stroke-linejoin="round" />
<polygon points="338.24,421.50 337.52,422.51 336.64,423.33 336.99,424.52 336.73,425.64 335.82,426.43 334.48,426.72 333.17,426.77 332.42,427.82 331.30,428.47 330.00,428.48 328.80,427.87 327.84,427.13 326.43,427.42 325.10,427.21 324.17,426.43 323.83,425.29 323.77,424.18 322.53,423.55 321.77,422.60 321.75,421.50 322.47,420.49 323.35,419.67 323.00,418.48 323.26,417.35 324.17,416.56 325.52,416.28 326.82,416.23 327.57,415.18 328.69,414.53 330.00,414.52 331.19,415.12 332.15,415.87 333.56,415.58 334.89,415.79 335.82,416.56 336.16,417.71 336.22,418.81 337.46,419.44 338.22,420.40" fill="url(#ap)" stroke="#a2b5d6" stroke-width="0.6" stroke-linejoin="round" />
<polygon points="308.03,421.75 307.49,423.10 306.00,424.16 304.96,425.19 304.35,426.56 302.86,427.58 300.79,427.95 298.64,427.64 296.75,427.57 294.62,427.91 292.52,427.58 290.99,426.60 290.33,425.23 289.48,424.13 287.96,423.09 287.35,421.75 287.89,420.39 289.38,419.33 290.42,418.30 291.03,416.93 292.52,415.91 294.59,415.54 296.74,415.85 298.63,415.92 300.76,415.58 302.86,415.91 304.39,416.89 305.05,418.26 305.90,419.36 307.42,420.40" fill="url(#ap)" stroke="#a2b5d6" stroke-width="0.6" stroke-linejoin="round" />
<polygon points="317.03,421.84 316.20,423.22 314.77,424.24 314.77,425.76 313.95,427.15 312.36,428.01 310.38,428.15 308.50,427.72 306.78,428.48 304.80,428.63 303.03,428.01 301.87,426.77 301.43,425.31 299.71,424.56 298.55,423.32 298.36,421.84 299.19,420.46 300.62,419.44 300.62,417.92 301.44,416.53 303.03,415.67 305.01,415.53 306.89,415.96 308.61,415.20 310.59,415.05 312.36,415.67 313.52,416.91 313.96,418.37 315.68,419.12 316.84,420.36" fill="url(#ap)" stroke="#a2b5d6" stroke-width="0.6" stroke-linejoin="round" />
<polygon points="266.24,421.96 265.81,423.08 266.10,424.39 265.53,425.64 264.16,426.50 262.35,426.79 260.79,427.08 259.34,427.91 257.55,428.19 255.83,427.76 254.58,426.79 253.44,425.96 251.71,425.48 250.48,424.51 250.13,423.23 250.69,421.96 251.12,420.84 250.83,419.53 251.40,418.28 252.77,417.43 254.58,417.14 256.14,416.84 257.59,416.01 259.38,415.73 261.10,416.16 262.35,417.14 263.49,417.96 265.22,418.44 266.45,419.41 266.80,420.69" fill="url(#ap)" stroke="#a2b5d6" stroke-width="0.6" stroke-linejoin="round" />
<polygon points="327.82,422.00 328.16,423.34 327.60,424.60 326.30,425.49 325.01,426.17 324.60,427.55 323.54,428.61 322.01,429.03 320.36,428.75 318.91,428.34 317.35,428.93 315.70,428.90 314.35,428.17 313.59,426.92 313.07,425.73 311.54,425.08 310.54,423.99 310.38,422.66 311.09,421.39 311.89,420.31 311.54,418.91 311.94,417.58 313.10,416.65 314.74,416.31 316.25,416.16 317.35,415.07 318.85,414.49 320.45,414.67 321.79,415.52 322.88,416.41 324.60,416.44 326.07,417.06 326.91,418.20 326.94,419.60 326.78,420.86" fill="url(#ap)" stroke="#a2b5d6" stroke-width="0.6" stroke-linejoin="round" />
<polygon points="255.49,422.03 255.63,423.22 254.87,424.28 253.48,425.00 252.99,425.99 252.70,427.26 251.72,428.18 250.23,428.51 248.58,428.26 247.34,428.69 245.98,429.43 244.45,429.53 243.09,428.95 242.16,427.86 240.89,427.49 239.26,427.26 238.08,426.50 237.65,425.33 237.98,424.05 237.42,423.09 236.48,422.03 236.34,420.84 237.09,419.78 238.49,419.06 238.97,418.07 239.26,416.80 240.24,415.89 241.74,415.55 243.38,415.81 244.63,415.37 245.98,414.64 247.51,414.53 248.87,415.12 249.80,416.20 251.08,416.58 252.70,416.80 253.88,417.57 254.31,418.73 253.98,420.01 254.54,420.98" fill="url(#ap)" stroke="#a2b5d6" stroke-width="0.6" stroke-linejoin="round" />
<polygon points="324.49,427.61 324.99,428.75 324.56,429.85 323.31,430.67 321.81,431.19 321.71,432.46 320.94,433.52 319.55,434.08 317.87,434.02 316.30,433.62 314.98,434.47 313.39,434.83 311.86,434.52 310.73,433.62 310.01,432.53 308.25,432.46 306.77,431.90 306.00,430.91 306.08,429.69 306.63,428.56 305.46,427.61 304.96,426.46 305.39,425.36 306.64,424.54 308.14,424.02 308.25,422.75 309.02,421.69 310.40,421.13 312.09,421.19 313.66,421.59 314.98,420.74 316.56,420.38 318.09,420.69 319.22,421.59 319.94,422.68 321.71,422.75 323.18,423.31 323.96,424.31 323.87,425.52 323.32,426.65" fill="url(#ap)" stroke="#a2b5d6" stroke-width="0.6" stroke-linejoin="round" />
<polygon points="347.96,427.81 347.75,428.87 346.79,429.75 345.72,430.44 345.85,431.63 345.35,432.69 344.23,433.33 342.74,433.42 341.36,433.32 340.36,434.24 339.05,434.71 337.67,434.54 336.53,433.80 335.65,432.97 334.10,433.07 332.74,432.69 331.92,431.82 331.79,430.67 331.92,429.60 330.74,428.83 330.13,427.81 330.34,426.74 331.30,425.86 332.37,425.18 332.24,423.98 332.74,422.93 333.87,422.29 335.35,422.19 336.73,422.30 337.73,421.38 339.05,420.91 340.42,421.07 341.56,421.82 342.45,422.64 343.99,422.54 345.35,422.93 346.17,423.80 346.30,424.95 346.17,426.02 347.35,426.79" fill="url(#ap)" stroke="#a2b5d6" stroke-width="0.6" stroke-linejoin="round" />
<polygon points="308.94,427.86 309.66,428.97 309.57,430.12 308.60,431.06 307.04,431.59 305.90,432.23 305.11,433.31 303.75,433.99 302.08,434.05 300.51,433.53 299.08,433.31 297.36,433.55 295.76,433.24 294.65,432.37 294.26,431.19 293.61,430.29 292.26,429.51 291.62,428.44 291.91,427.30 292.99,426.35 293.61,425.44 293.65,424.22 294.45,423.21 295.91,422.65 297.66,422.65 299.08,422.41 300.47,421.68 302.12,421.48 303.66,421.93 304.75,422.87 305.90,423.49 307.60,423.79 308.85,424.56 309.30,425.67 308.93,426.85" fill="url(#ap)" stroke="#a2b5d6" stroke-width="0.6" stroke-linejoin="round" />
<polygon points="296.62,427.97 296.61,429.07 295.79,430.03 294.43,430.65 294.08,431.67 293.50,432.74 292.31,433.42 290.78,433.54 289.28,433.15 287.98,433.58 286.47,433.92 285.01,433.66 283.93,432.86 283.40,431.75 282.13,431.27 280.84,430.62 280.20,429.62 280.38,428.49 281.23,427.50 280.95,426.47 280.84,425.32 281.50,424.33 282.81,423.73 284.40,423.60 285.31,422.80 286.47,422.02 287.94,421.78 289.39,422.16 290.52,422.99 291.94,423.02 293.50,423.20 294.67,423.89 295.17,424.96 294.98,426.13 295.84,426.96" fill="url(#ap)" stroke="#a2b5d6" stroke-width="0.6" stroke-linejoin="round" />
<polygon points="247.36,428.26 248.02,429.72 247.90,431.28 246.91,432.54 245.33,433.24 243.85,433.72 242.76,434.96 241.20,435.64 239.48,435.51 238.02,434.63 236.82,433.72 235.07,433.50 233.63,432.62 232.90,431.22 233.02,429.65 233.30,428.26 232.64,426.80 232.76,425.24 233.75,423.98 235.33,423.28 236.82,422.80 237.90,421.56 239.47,420.88 241.18,421.01 242.64,421.89 243.85,422.80 245.59,423.02 247.03,423.90 247.76,425.30 247.64,426.87" fill="url(#ap)" stroke="#a2b5d6" stroke-width="0.6" stroke-linejoin="round" />
<polygon points="257.94,428.41 257.89,429.35 258.34,430.45 258.10,431.52 257.16,432.29 255.77,432.63 254.90,433.26 254.26,434.30 253.15,434.92 251.81,434.92 250.52,434.38 249.36,434.33 247.98,434.70 246.66,434.51 245.71,433.75 245.28,432.63 244.49,431.93 243.20,431.41 242.44,430.52 242.43,429.44 243.11,428.41 243.16,427.47 242.71,426.36 242.95,425.30 243.89,424.53 245.28,424.19 246.14,423.55 246.79,422.51 247.90,421.90 249.24,421.89 250.52,422.44 251.69,422.48 253.06,422.12 254.38,422.31 255.34,423.07 255.77,424.19 256.55,424.88 257.85,425.40 258.61,426.29 258.62,427.38" fill="url(#ap)" stroke="#a2b5d6" stroke-width="0.6" stroke-linejoin="round" />
<polygon points="270.59,428.43 271.33,429.84 271.36,431.40 270.40,432.73 268.67,433.52 266.67,433.68 265.46,434.89 263.73,435.68 261.76,435.70 260.02,434.94 258.83,433.68 256.88,433.47 255.13,432.72 254.11,431.41 254.10,429.85 254.91,428.43 254.17,427.02 254.14,425.47 255.10,424.13 256.83,423.35 258.83,423.18 260.04,421.98 261.76,421.18 263.74,421.16 265.48,421.92 266.67,423.18 268.62,423.39 270.37,424.15 271.39,425.46 271.40,427.01" fill="url(#ap)" stroke="#a2b5d6" stroke-width="0.6" stroke-linejoin="round" />
<polygon points="283.04,429.01 283.42,430.44 282.77,431.79 281.25,432.75 279.44,433.26 278.62,434.59 277.11,435.55 275.18,435.81 273.29,435.33 271.78,434.45 269.78,434.59 267.89,434.12 266.61,433.03 266.23,431.59 266.53,430.20 265.36,429.01 264.98,427.58 265.63,426.22 267.15,425.27 268.96,424.76 269.78,423.43 271.29,422.47 273.22,422.20 275.11,422.68 276.62,423.57 278.62,423.43 280.51,423.90 281.79,424.99 282.16,426.42 281.86,427.82" fill="url(#ap)" stroke="#a2b5d6" stroke-width="0.6" stroke-linejoin="round" />
<polygon points="333.27,429.80 333.97,431.32 333.66,432.89 332.35,434.11 330.41,434.73 328.95,435.55 327.57,436.77 325.66,437.35 323.62,437.09 321.95,436.12 320.30,435.55 318.23,435.25 316.61,434.26 315.89,432.78 316.15,431.18 315.97,429.80 315.28,428.28 315.58,426.71 316.89,425.49 318.83,424.87 320.30,424.05 321.67,422.83 323.59,422.25 325.62,422.51 327.30,423.49 328.95,424.05 331.01,424.36 332.63,425.34 333.35,426.82 333.09,428.42" fill="url(#ap)" stroke="#a2b5d6" stroke-width="0.6" stroke-linejoin="round" />
<polygon points="329.90,434.51 329.38,435.79 327.93,436.79 326.85,437.74 326.26,439.04 324.82,440.01 322.78,440.37 320.67,440.09 318.82,439.98 316.72,440.31 314.66,440.01 313.14,439.09 312.48,437.81 311.70,436.75 310.20,435.78 309.58,434.51 310.09,433.23 311.54,432.23 312.62,431.28 313.21,429.99 314.66,429.02 316.69,428.66 318.80,428.94 320.66,429.05 322.75,428.72 324.82,429.02 326.34,429.94 327.00,431.22 327.77,432.28 329.28,433.25" fill="url(#ap)" stroke="#a2b5d6" stroke-width="0.6" stroke-linejoin="round" />
<polygon points="266.09,435.34 265.99,436.34 265.13,437.18 263.83,437.74 263.99,438.85 263.58,439.86 262.56,440.52 261.15,440.66 259.71,440.37 258.77,441.24 257.52,441.74 256.18,441.66 255.05,441.02 254.31,440.05 252.82,440.17 251.46,439.86 250.59,439.10 250.39,438.05 250.79,436.97 249.63,436.27 248.95,435.34 249.06,434.33 249.91,433.49 251.22,432.93 251.05,431.82 251.46,430.81 252.49,430.15 253.89,430.01 255.34,430.31 256.27,429.43 257.52,428.93 258.86,429.01 259.99,429.65 260.73,430.62 262.22,430.50 263.58,430.81 264.45,431.57 264.65,432.62 264.25,433.70 265.42,434.40" fill="url(#ap)" stroke="#a2b5d6" stroke-width="0.6" stroke-linejoin="round" />
<polygon points="291.29,435.38 290.09,436.21 290.76,437.22 290.82,438.28 290.00,439.15 288.49,439.62 286.70,439.68 286.03,440.69 284.87,441.46 283.31,441.71 281.71,441.38 280.38,440.63 278.77,441.05 277.07,441.08 275.69,440.57 274.93,439.62 274.84,438.50 273.23,438.08 271.99,437.35 271.59,436.38 272.13,435.38 273.33,434.54 272.66,433.53 272.61,432.47 273.42,431.60 274.93,431.13 276.72,431.07 277.39,430.06 278.55,429.29 280.11,429.04 281.71,429.37 283.04,430.12 284.65,429.71 286.35,429.67 287.73,430.18 288.49,431.13 288.58,432.25 290.19,432.67 291.43,433.40 291.83,434.37" fill="url(#ap)" stroke="#a2b5d6" stroke-width="0.6" stroke-linejoin="round" />
<polygon points="303.84,435.54 302.77,436.73 302.72,438.01 302.45,439.42 301.32,440.54 299.57,441.06 297.66,440.97 296.15,441.58 294.38,442.11 292.52,441.93 291.03,441.06 290.19,439.78 288.72,439.11 287.22,438.23 286.50,436.94 286.76,435.54 287.83,434.35 287.88,433.07 288.15,431.66 289.28,430.54 291.03,430.01 292.94,430.11 294.45,429.50 296.22,428.97 298.08,429.14 299.57,430.01 300.41,431.30 301.87,431.97 303.38,432.85 304.10,434.14" fill="url(#ap)" stroke="#a2b5d6" stroke-width="0.6" stroke-linejoin="round" />
<polygon points="315.30,435.73 315.52,436.79 315.93,438.01 315.60,439.17 314.56,439.98 313.10,440.32 312.39,441.20 311.68,442.32 310.50,442.93 309.10,442.87 307.79,442.22 306.57,442.41 305.15,442.77 303.82,442.48 302.88,441.58 302.49,440.32 301.47,439.71 300.17,439.09 299.46,438.07 299.54,436.86 300.29,435.73 300.07,434.67 299.66,433.44 299.99,432.29 301.03,431.48 302.49,431.14 303.20,430.26 303.91,429.14 305.09,428.52 306.49,428.59 307.79,429.24 309.02,429.05 310.44,428.69 311.77,428.98 312.71,429.88 313.10,431.14 314.12,431.75 315.41,432.37 316.12,433.39 316.05,434.60" fill="url(#ap)" stroke="#a2b5d6" stroke-width="0.6" stroke-linejoin="round" />
<polygon points="281.71,436.92 281.77,438.01 281.00,438.97 279.66,439.61 279.40,440.61 279.08,441.76 278.11,442.56 276.68,442.82 275.14,442.56 274.02,443.12 272.74,443.76 271.31,443.81 270.05,443.22 269.21,442.20 267.89,442.00 266.39,441.76 265.34,441.02 265.00,439.93 265.34,438.75 264.60,437.90 263.76,436.92 263.70,435.83 264.47,434.87 265.81,434.23 266.07,433.23 266.39,432.08 267.36,431.28 268.79,431.02 270.33,431.28 271.45,430.71 272.74,430.07 274.17,430.03 275.42,430.62 276.26,431.64 277.58,431.84 279.08,432.08 280.13,432.82 280.48,433.91 280.13,435.09 280.87,435.94" fill="url(#ap)" stroke="#a2b5d6" stroke-width="0.6" stroke-linejoin="round" />
<polygon points="253.22,436.92 252.14,437.80 252.81,438.88 252.84,440.00 252.07,440.91 250.68,441.40 249.06,441.46 248.49,442.57 247.42,443.38 246.00,443.62 244.54,443.25 243.34,442.46 241.86,442.95 240.32,442.97 239.08,442.41 238.41,441.40 238.32,440.22 236.80,439.80 235.69,439.02 235.36,437.98 235.87,436.92 236.95,436.04 236.28,434.96 236.25,433.84 237.02,432.93 238.41,432.44 240.02,432.38 240.60,431.27 241.67,430.46 243.09,430.22 244.54,430.59 245.75,431.38 247.23,430.89 248.77,430.87 250.01,431.43 250.68,432.44 250.76,433.62 252.29,434.04 253.39,434.82 253.73,435.86" fill="url(#ap)" stroke="#a2b5d6" stroke-width="0.6" stroke-linejoin="round" />
<polygon points="346.89,437.46 346.39,438.55 345.06,439.41 344.32,440.29 344.09,441.47 343.05,442.40 341.36,442.84 339.45,442.73 337.88,442.92 336.24,443.54 334.42,443.62 332.81,443.08 331.76,442.08 330.54,441.44 328.73,441.04 327.49,440.20 327.18,439.09 327.78,437.96 327.83,436.97 327.21,435.84 327.49,434.72 328.71,433.87 330.50,433.46 331.78,432.86 332.82,431.86 334.42,431.30 336.24,431.36 337.89,431.97 339.43,432.22 341.35,432.10 343.05,432.52 344.11,433.44 344.36,434.62 345.01,435.52 346.36,436.37" fill="url(#ap)" stroke="#a2b5d6" stroke-width="0.6" stroke-linejoin="round" />
<polygon points="247.52,441.90 248.12,443.12 247.73,444.32 246.42,445.22 244.61,445.69 244.00,446.83 242.96,447.90 241.32,448.44 239.45,448.32 237.78,447.66 236.08,448.04 234.18,448.16 232.53,447.64 231.51,446.58 231.23,445.29 229.73,444.64 228.41,443.71 227.98,442.52 228.58,441.32 229.91,440.37 229.73,439.17 229.97,437.90 231.10,436.94 232.86,436.50 234.80,436.61 236.08,435.77 237.71,435.11 239.53,435.10 241.13,435.75 242.22,436.83 244.00,436.98 245.78,437.43 246.93,438.38 247.17,439.63 246.58,440.88" fill="url(#ap)" stroke="#a2b5d6" stroke-width="0.6" stroke-linejoin="round" />
<polygon points="332.32,442.46 332.48,443.76 331.52,444.93 329.76,445.70 328.47,446.52 327.44,447.69 325.69,448.42 323.59,448.50 321.63,447.94 319.83,447.65 317.68,447.69 315.78,447.12 314.62,446.03 314.43,444.70 313.93,443.59 312.80,442.46 312.64,441.15 313.60,439.99 315.36,439.22 316.66,438.40 317.68,437.22 319.43,436.49 321.54,436.42 323.49,436.98 325.29,437.26 327.44,437.22 329.34,437.79 330.50,438.89 330.69,440.22 331.19,441.32" fill="url(#ap)" stroke="#a2b5d6" stroke-width="0.6" stroke-linejoin="round" />
<polygon points="354.56,443.30 355.35,444.44 355.40,445.65 354.62,446.66 353.22,447.26 352.19,447.93 351.76,449.18 350.74,450.07 349.30,450.33 347.78,449.96 346.48,449.84 345.08,450.48 343.58,450.52 342.34,449.89 341.59,448.76 340.77,447.93 339.22,447.57 338.12,446.75 337.80,445.59 338.25,444.36 338.40,443.30 337.61,442.17 337.56,440.96 338.34,439.95 339.74,439.34 340.77,438.68 341.20,437.43 342.22,436.54 343.66,436.28 345.18,436.65 346.48,436.77 347.89,436.13 349.38,436.09 350.63,436.72 351.38,437.85 352.19,438.68 353.74,439.03 354.84,439.86 355.17,441.02 354.71,442.25" fill="url(#ap)" stroke="#a2b5d6" stroke-width="0.6" stroke-linejoin="round" />
<polygon points="307.11,443.69 307.64,444.95 307.20,446.19 305.89,447.10 304.13,447.57 303.66,448.84 302.61,449.92 301.00,450.45 299.19,450.28 297.57,449.58 295.90,450.11 294.07,450.20 292.49,449.62 291.54,448.50 291.30,447.16 289.68,446.55 288.44,445.57 288.09,444.33 288.71,443.09 290.03,442.12 289.68,440.83 289.97,439.53 291.10,438.55 292.84,438.14 294.71,438.27 295.90,437.27 297.50,436.62 299.27,436.65 300.80,437.36 301.83,438.50 303.66,438.54 305.37,439.03 306.43,440.04 306.62,441.35 306.02,442.64" fill="url(#ap)" stroke="#a2b5d6" stroke-width="0.6" stroke-linejoin="round" />
<polygon points="273.87,443.78 273.01,445.25 271.64,446.36 271.63,447.98 270.78,449.45 269.16,450.35 267.15,450.48 265.27,450.09 263.51,450.89 261.52,451.03 259.73,450.35 258.58,449.02 258.07,447.51 256.33,446.69 255.18,445.37 255.02,443.78 255.88,442.32 257.24,441.20 257.26,439.58 258.10,438.12 259.73,437.21 261.74,437.08 263.62,437.48 265.37,436.67 267.37,436.53 269.16,437.21 270.30,438.54 270.82,440.05 272.56,440.87 273.71,442.20" fill="url(#ap)" stroke="#a2b5d6" stroke-width="0.6" stroke-linejoin="round" />
<polygon points="294.14,443.94 294.12,445.47 293.16,446.78 291.57,447.62 290.80,448.86 289.82,450.19 288.22,450.94 286.37,450.90 284.71,450.17 283.04,450.23 281.17,450.19 279.59,449.41 278.71,448.05 278.63,446.49 277.73,445.31 276.84,443.94 276.86,442.40 277.83,441.09 279.42,440.25 280.18,439.01 281.17,437.68 282.77,436.93 284.62,436.97 286.28,437.70 287.95,437.64 289.82,437.68 291.40,438.46 292.28,439.82 292.36,441.39 293.26,442.56" fill="url(#ap)" stroke="#a2b5d6" stroke-width="0.6" stroke-linejoin="round" />
<polygon points="344.53,444.05 343.75,445.19 344.10,446.57 343.61,447.90 342.28,448.86 340.43,449.22 338.67,449.30 337.21,450.21 335.38,450.57 333.58,450.20 332.22,449.22 331.25,448.15 329.44,447.69 328.09,446.71 327.62,445.39 328.12,444.05 328.90,442.90 328.55,441.53 329.04,440.19 330.37,439.24 332.22,438.87 333.98,438.80 335.44,437.89 337.27,437.53 339.07,437.89 340.43,438.87 341.40,439.94 343.21,440.41 344.56,441.38 345.02,442.70" fill="url(#ap)" stroke="#a2b5d6" stroke-width="0.6" stroke-linejoin="round" />
<polygon points="259.09,444.13 259.27,445.47 259.45,446.99 258.63,448.36 256.96,449.23 254.91,449.47 253.43,450.25 251.72,451.13 249.70,451.29 247.84,450.66 246.54,449.47 244.88,448.92 243.00,448.27 241.80,447.06 241.61,445.56 242.36,444.13 242.17,442.79 242.00,441.27 242.82,439.90 244.49,439.03 246.54,438.80 248.02,438.01 249.73,437.13 251.75,436.97 253.60,437.60 254.91,438.80 256.57,439.35 258.45,439.99 259.65,441.20 259.84,442.70" fill="url(#ap)" stroke="#a2b5d6" stroke-width="0.6" stroke-linejoin="round" />
<polygon points="286.25,444.40 287.13,445.50 287.25,446.68 286.47,447.69 285.01,448.31 283.74,448.85 283.30,450.08 282.25,450.99 280.73,451.29 279.10,450.97 277.68,450.69 276.18,451.34 274.57,451.43 273.20,450.86 272.36,449.78 271.62,448.85 269.94,448.53 268.71,447.76 268.29,446.64 268.73,445.44 269.11,444.40 268.23,443.30 268.10,442.11 268.88,441.11 270.35,440.49 271.62,439.95 272.05,438.71 273.11,437.81 274.63,437.51 276.26,437.83 277.68,438.11 279.18,437.46 280.79,437.37 282.16,437.94 283.00,439.02 283.74,439.95 285.42,440.27 286.65,441.04 287.07,442.16 286.62,443.36" fill="url(#ap)" stroke="#a2b5d6" stroke-width="0.6" stroke-linejoin="round" />
<polygon points="320.98,444.52 320.24,445.55 318.77,446.33 318.72,447.39 318.32,448.51 317.07,449.32 315.24,449.63 313.29,449.43 311.86,450.07 310.13,450.58 308.27,450.51 306.73,449.85 305.77,448.83 304.04,448.57 302.28,448.09 301.22,447.18 301.13,446.06 301.88,444.98 301.14,444.01 300.69,442.90 301.22,441.85 302.65,441.11 304.54,440.78 305.36,439.84 306.55,438.93 308.27,438.53 310.15,438.72 311.76,439.39 313.52,439.19 315.45,439.17 317.07,439.71 317.98,440.70 318.09,441.87 319.46,442.55 320.69,443.43" fill="url(#ap)" stroke="#a2b5d6" stroke-width="0.6" stroke-linejoin="round" />
<path d="M252.00,412.50 C252.50,412.17 253.50,411.13 255.00,410.50 C256.50,409.87 259.40,409.80 261.00,408.70 C262.60,407.60 263.40,404.80 264.60,403.90 C265.80,403.00 267.02,403.20 268.20,403.30 C269.38,403.40 270.52,404.70 271.70,404.50 C272.88,404.30 273.50,402.80 275.30,402.10 C277.10,401.40 281.30,400.60 282.50,400.30" fill="none" stroke="#2a3a60" stroke-width="1.3" stroke-linecap="round"/>
<path d="M234.80,434.90 C235.58,434.30 237.72,432.08 239.50,431.30 C241.28,430.52 243.70,430.98 245.50,430.20 C247.30,429.42 248.72,427.20 250.30,426.60 C251.88,426.00 254.02,426.90 255.00,426.60 C255.98,426.30 256.00,425.10 256.20,424.80" fill="none" stroke="#2a3a60" stroke-width="1.3" stroke-linecap="round"/>
<path d="M255.00,439.70 C255.40,438.50 256.20,433.90 257.40,432.50 C258.60,431.10 260.60,431.50 262.20,431.30 C263.80,431.10 265.62,430.50 267.00,431.30 C268.38,432.10 269.12,435.50 270.50,436.10 C271.88,436.70 273.50,434.50 275.30,434.90 C277.10,435.30 279.52,438.30 281.30,438.50 C283.08,438.70 284.22,435.90 286.00,436.10 C287.78,436.30 291.00,439.10 292.00,439.70" fill="none" stroke="#2a3a60" stroke-width="1.3" stroke-linecap="round"/>
<path d="M277.70,413.50 C278.33,413.25 280.12,412.00 281.50,412.00 C282.88,412.00 285.25,413.25 286.00,413.50" fill="none" stroke="#2a3a60" stroke-width="1.3" stroke-linecap="round"/>
<path d="M283.70,420.60 C284.42,420.63 286.62,420.33 288.00,420.80 C289.38,421.27 290.70,422.97 292.00,423.40 C293.30,423.83 295.17,423.40 295.80,423.40" fill="none" stroke="#2a3a60" stroke-width="1.3" stroke-linecap="round"/>
<path d="M294.50,407.70 C295.38,407.15 298.05,404.73 299.80,404.40 C301.55,404.07 303.48,405.70 305.00,405.70 C306.52,405.70 307.70,404.62 308.90,404.40 C310.10,404.18 311.65,404.40 312.20,404.40" fill="none" stroke="#2a3a60" stroke-width="1.3" stroke-linecap="round"/>
<path d="M307.60,412.90 C308.08,412.67 309.52,411.60 310.50,411.50 C311.48,411.40 313.00,412.17 313.50,412.30" fill="none" stroke="#2a3a60" stroke-width="1.3" stroke-linecap="round"/>
<path d="M323.50,417.50 C323.90,417.62 324.85,417.77 325.90,418.20 C326.95,418.63 328.92,419.02 329.80,420.10 C330.68,421.18 330.32,423.50 331.20,424.70 C332.08,425.90 334.23,426.65 335.10,427.30 C335.97,427.95 336.18,428.38 336.40,428.60" fill="none" stroke="#2a3a60" stroke-width="1.3" stroke-linecap="round"/>
<path d="M311.50,430.00 C311.95,430.87 313.12,434.57 314.20,435.20 C315.28,435.83 316.70,433.58 318.00,433.80 C319.30,434.02 320.47,435.83 322.00,436.50 C323.53,437.17 325.67,437.70 327.20,437.80 C328.73,437.90 330.53,437.22 331.20,437.10" fill="none" stroke="#2a3a60" stroke-width="1.3" stroke-linecap="round"/>
<path d="M288.00,439.00 C288.67,438.58 290.70,437.13 292.00,436.50 C293.30,435.87 294.28,435.87 295.80,435.20 C297.32,434.53 300.22,432.95 301.10,432.50" fill="none" stroke="#2a3a60" stroke-width="1.3" stroke-linecap="round"/>
<path d="M243.00,423.00 C243.67,422.58 245.67,420.80 247.00,420.50 C248.33,420.20 249.67,421.52 251.00,421.20 C252.33,420.88 254.33,419.03 255.00,418.60" fill="none" stroke="#2a3a60" stroke-width="1.0" stroke-linecap="round"/>
<path d="M262.00,421.00 C262.67,420.58 264.67,418.73 266.00,418.50 C267.33,418.27 268.83,419.77 270.00,419.60 C271.17,419.43 272.50,417.85 273.00,417.50" fill="none" stroke="#2a3a60" stroke-width="1.0" stroke-linecap="round"/>
<path d="M243.00,441.00 C243.67,440.42 245.67,438.03 247.00,437.50 C248.33,436.97 250.33,437.75 251.00,437.80" fill="none" stroke="#2a3a60" stroke-width="1.0" stroke-linecap="round"/>
<path d="M336.00,440.00 C336.67,439.42 338.67,436.92 340.00,436.50 C341.33,436.08 342.67,437.75 344.00,437.50 C345.33,437.25 347.33,435.42 348.00,435.00" fill="none" stroke="#2a3a60" stroke-width="1.0" stroke-linecap="round"/>
<path d="M286.00,399.00 C286.67,399.58 288.67,402.17 290.00,402.50 C291.33,402.83 293.33,401.25 294.00,401.00" fill="none" stroke="#2a3a60" stroke-width="1.1" stroke-linecap="round"/>
<path d="M314.00,404.00 C314.67,404.58 316.67,407.08 318.00,407.50 C319.33,407.92 320.67,406.25 322.00,406.50 C323.33,406.75 324.67,408.67 326.00,409.00 C327.33,409.33 329.33,408.58 330.00,408.50" fill="none" stroke="#2a3a60" stroke-width="1.1" stroke-linecap="round"/>
<path d="M248.00,404.50 C248.67,404.83 251.33,406.17 252.00,406.50" fill="none" stroke="#2a3a60" stroke-width="1.0" stroke-linecap="round"/>
<path d="M263.00,426.00 C263.67,425.58 265.67,423.67 267.00,423.50 C268.33,423.33 269.67,424.08 271.00,425.00 C272.33,425.92 273.67,428.42 275.00,429.00 C276.33,429.58 278.33,428.58 279.00,428.50" fill="none" stroke="#2a3a60" stroke-width="1.0" stroke-linecap="round"/>
<path d="M297.00,414.00 C297.67,413.58 299.67,411.67 301.00,411.50 C302.33,411.33 303.67,412.08 305.00,413.00 C306.33,413.92 308.33,416.33 309.00,417.00" fill="none" stroke="#2a3a60" stroke-width="1.0" stroke-linecap="round"/>
<path d="M338.00,420.00 C338.50,420.67 340.00,423.00 341.00,424.00 C342.00,425.00 343.00,425.00 344.00,426.00 C345.00,427.00 346.50,429.33 347.00,430.00" fill="none" stroke="#2a3a60" stroke-width="1.0" stroke-linecap="round"/>
<polygon points="284.20,422.50 283.16,423.45 283.47,424.54 283.60,425.74 282.95,426.75 281.65,427.33 280.06,427.43 279.31,428.37 278.31,429.29 276.94,429.65 275.50,429.34 274.29,428.52 272.91,428.76 271.37,428.86 270.09,428.35 269.35,427.33 269.23,426.08 268.03,425.49 266.86,424.71 266.41,423.63 266.80,422.50 267.84,421.55 267.53,420.46 267.40,419.26 268.05,418.25 269.35,417.67 270.94,417.57 271.69,416.63 272.69,415.71 274.06,415.35 275.50,415.66 276.71,416.48 278.09,416.24 279.63,416.14 280.91,416.65 281.65,417.67 281.77,418.92 282.97,419.51 284.14,420.29 284.59,421.37" fill="#e2e2f2" stroke="#f0dc70" stroke-width="3.0" stroke-linejoin="round" />
<polygon points="284.20,422.50 283.16,423.45 283.47,424.54 283.60,425.74 282.95,426.75 281.65,427.33 280.06,427.43 279.31,428.37 278.31,429.29 276.94,429.65 275.50,429.34 274.29,428.52 272.91,428.76 271.37,428.86 270.09,428.35 269.35,427.33 269.23,426.08 268.03,425.49 266.86,424.71 266.41,423.63 266.80,422.50 267.84,421.55 267.53,420.46 267.40,419.26 268.05,418.25 269.35,417.67 270.94,417.57 271.69,416.63 272.69,415.71 274.06,415.35 275.50,415.66 276.71,416.48 278.09,416.24 279.63,416.14 280.91,416.65 281.65,417.67 281.77,418.92 282.97,419.51 284.14,420.29 284.59,421.37" fill="none" stroke="#e2c530" stroke-width="1.4" stroke-linejoin="round" />
<polygon points="310.44,423.40 311.18,424.49 311.19,425.64 310.37,426.59 308.97,427.15 308.08,427.87 307.63,429.05 306.59,429.87 305.16,430.08 303.67,429.70 302.40,429.71 301.01,430.30 299.54,430.30 298.34,429.66 297.63,428.56 296.72,427.87 295.21,427.51 294.17,426.70 293.89,425.57 294.38,424.40 294.36,423.40 293.62,422.31 293.61,421.16 294.43,420.21 295.83,419.65 296.72,418.93 297.17,417.75 298.21,416.93 299.64,416.72 301.13,417.10 302.40,417.09 303.79,416.50 305.26,416.50 306.46,417.14 307.17,418.24 308.08,418.93 309.59,419.29 310.63,420.10 310.91,421.23 310.42,422.40" fill="#e2e2f2" stroke="#f0dc70" stroke-width="3.0" stroke-linejoin="round" />
<polygon points="310.44,423.40 311.18,424.49 311.19,425.64 310.37,426.59 308.97,427.15 308.08,427.87 307.63,429.05 306.59,429.87 305.16,430.08 303.67,429.70 302.40,429.71 301.01,430.30 299.54,430.30 298.34,429.66 297.63,428.56 296.72,427.87 295.21,427.51 294.17,426.70 293.89,425.57 294.38,424.40 294.36,423.40 293.62,422.31 293.61,421.16 294.43,420.21 295.83,419.65 296.72,418.93 297.17,417.75 298.21,416.93 299.64,416.72 301.13,417.10 302.40,417.09 303.79,416.50 305.26,416.50 306.46,417.14 307.17,418.24 308.08,418.93 309.59,419.29 310.63,420.10 310.91,421.23 310.42,422.40" fill="none" stroke="#e2c530" stroke-width="1.4" stroke-linejoin="round" />
<polygon points="327.86,420.40 326.98,421.34 327.61,422.50 327.59,423.68 326.78,424.61 325.38,425.10 323.91,425.28 323.32,426.44 322.24,427.27 320.83,427.48 319.40,427.04 318.20,426.35 316.73,426.85 315.23,426.83 314.04,426.20 313.42,425.10 313.19,423.94 311.71,423.48 310.66,422.63 310.39,421.52 310.94,420.40 311.82,419.46 311.19,418.30 311.21,417.12 312.02,416.19 313.42,415.70 314.89,415.52 315.48,414.36 316.56,413.53 317.97,413.32 319.40,413.76 320.60,414.45 322.07,413.95 323.57,413.97 324.76,414.60 325.38,415.70 325.61,416.86 327.09,417.32 328.14,418.17 328.41,419.28" fill="#e2e2f2" stroke="#f0dc70" stroke-width="3.0" stroke-linejoin="round" />
<polygon points="327.86,420.40 326.98,421.34 327.61,422.50 327.59,423.68 326.78,424.61 325.38,425.10 323.91,425.28 323.32,426.44 322.24,427.27 320.83,427.48 319.40,427.04 318.20,426.35 316.73,426.85 315.23,426.83 314.04,426.20 313.42,425.10 313.19,423.94 311.71,423.48 310.66,422.63 310.39,421.52 310.94,420.40 311.82,419.46 311.19,418.30 311.21,417.12 312.02,416.19 313.42,415.70 314.89,415.52 315.48,414.36 316.56,413.53 317.97,413.32 319.40,413.76 320.60,414.45 322.07,413.95 323.57,413.97 324.76,414.60 325.38,415.70 325.61,416.86 327.09,417.32 328.14,418.17 328.41,419.28" fill="none" stroke="#e2c530" stroke-width="1.4" stroke-linejoin="round" />
<polygon points="243.23,392.40 242.13,393.46 242.56,394.74 242.53,396.11 241.68,397.19 240.21,397.71 238.54,397.65 237.63,398.73 236.35,399.56 234.81,399.67 233.41,399.03 232.43,397.88 230.87,397.96 229.30,397.62 228.24,396.68 227.96,395.35 228.41,393.99 227.37,393.00 226.69,391.75 226.91,390.46 227.96,389.45 229.50,388.90 229.76,387.59 230.50,386.37 231.82,385.71 233.41,385.77 234.88,386.45 236.26,385.80 237.84,385.53 239.28,385.99 240.21,387.09 240.50,388.48 241.95,388.99 243.20,389.86 243.66,391.10" fill="url(#ap)" stroke="#98acd0" stroke-width="0.6" stroke-linejoin="round" />
<path d="M265.8,399.2 Q263,390.2 249.5,390.4" fill="none" stroke="#111" stroke-width="1.3" stroke-dasharray="1.8,1.3"/>
<path d="M250,387.9 L245.0,390.5 L250,393.1Z" fill="#111"/>
<polygon points="229.93,434.50 230.10,435.59 229.51,436.57 228.36,437.21 227.68,437.96 227.32,439.09 226.42,439.88 225.15,440.10 223.84,439.74 222.72,439.75 221.46,440.22 220.16,440.11 219.17,439.41 218.68,438.32 217.98,437.59 216.76,437.04 216.05,436.12 216.08,435.03 216.78,434.03 217.01,433.10 216.76,431.96 217.16,430.91 218.20,430.25 219.56,430.09 220.56,429.67 221.46,428.78 222.68,428.40 223.93,428.67 224.93,429.47 225.94,429.87 227.32,429.91 228.43,430.48 228.97,431.48 228.85,432.64 229.11,433.56" fill="url(#ap)" stroke="#98acd0" stroke-width="0.6" stroke-linejoin="round" />
<text x="241.50" y="385.20" font-size="7.6" text-anchor="start" font-weight="normal" font-style="normal" fill="#222" stroke="#222" stroke-width="0.22" textLength="52.30" lengthAdjust="spacingAndGlyphs" >Granule release</text>
<text x="267.00" y="394.50" font-size="7.6" text-anchor="start" font-weight="normal" font-style="normal" fill="#222" stroke="#222" stroke-width="0.22" textLength="59.20" lengthAdjust="spacingAndGlyphs" >(ADP, serotonin...)</text>
<text x="357.00" y="385.30" font-size="7.6" text-anchor="start" font-weight="normal" font-style="normal" fill="#222" stroke="#222" stroke-width="0.22" textLength="53.60" lengthAdjust="spacingAndGlyphs" >Resting platelet</text>
<text x="357.00" y="397.00" font-size="7.6" text-anchor="start" font-weight="normal" font-style="normal" fill="#222" stroke="#222" stroke-width="0.22" textLength="60.00" lengthAdjust="spacingAndGlyphs" >Activated platelet</text>
<text x="357.00" y="409.80" font-size="7.6" text-anchor="start" font-weight="normal" font-style="normal" fill="#222" stroke="#222" stroke-width="0.22" textLength="40.70" lengthAdjust="spacingAndGlyphs" >PS exposing,</text>
<text x="357.00" y="419.20" font-size="7.6" text-anchor="start" font-weight="normal" font-style="normal" fill="#222" stroke="#222" stroke-width="0.22" textLength="73.00" lengthAdjust="spacingAndGlyphs" >procoagulant platelet</text>
<text x="152.00" y="440.80" font-size="7.6" text-anchor="start" font-weight="normal" font-style="normal" fill="#222" stroke="#222" stroke-width="0.22" textLength="50.00" lengthAdjust="spacingAndGlyphs" >Endothelial cell</text>
<text x="152.00" y="453.00" font-size="7.6" text-anchor="start" font-weight="normal" font-style="normal" fill="#222" stroke="#222" stroke-width="0.22" textLength="29.20" lengthAdjust="spacingAndGlyphs" >Collagen</text>
<rect x="139.4" y="461.1" width="292.9" height="32.3" rx="2.6" fill="#c6decd"/>
<circle cx="146.0" cy="468.0" r="1.2" fill="#1a1a1a"/>
<circle cx="146.0" cy="478.1" r="1.2" fill="#1a1a1a"/>
<text x="158.80" y="470.60" font-size="7.3" text-anchor="start" font-weight="normal" font-style="normal" fill="#333" stroke="#333" stroke-width="0.22" textLength="123.40" lengthAdjust="spacingAndGlyphs" >Normal procoagulant activity <tspan font-style="italic">in vivo</tspan>.</text>
<text x="158.80" y="480.70" font-size="7.3" text-anchor="start" font-weight="normal" font-style="normal" fill="#333" stroke="#333" stroke-width="0.22" textLength="267.40" lengthAdjust="spacingAndGlyphs" >Defects in hemostasis and thrombosis, associated with reduced granule release.</text>
<text x="158.80" y="490.00" font-size="7.3" text-anchor="start" font-weight="normal" font-style="normal" fill="#333" stroke="#333" stroke-width="0.22" textLength="99.70" lengthAdjust="spacingAndGlyphs" >Rejuvenation rescues defects.</text>
<path d="M285.3,494.6 V501.5" stroke="#111" stroke-width="1.1"/>
<path d="M283.1,500.6 L285.3,504.4 L287.5,500.6Z" fill="#111"/>
<rect x="138.9" y="506.3" width="293.8" height="22.2" rx="3" fill="#fff" stroke="#111" stroke-width="1.3"/>
<text x="285.75" y="515.40" font-size="7.2" text-anchor="middle" font-weight="bold" font-style="normal" fill="#111" stroke="#111" stroke-width="0.22" textLength="261.10" lengthAdjust="spacingAndGlyphs" >Intrinsic apoptosis restricts platelet age to maintain platelet functionality,</text>
<text x="285.10" y="524.00" font-size="7.2" text-anchor="middle" font-weight="bold" font-style="normal" fill="#111" stroke="#111" stroke-width="0.22" textLength="199.00" lengthAdjust="spacingAndGlyphs" >but does not contribute to procoagulant activity <tspan font-style="italic">in vivo</tspan>.</text>
<circle cx="105.6" cy="468.2" r="6.8" fill="#e88c2c" stroke="#1a1a1a" stroke-width="1.4"/>
<circle cx="123.4" cy="468.2" r="6.8" fill="#e88c2c" stroke="#1a1a1a" stroke-width="1.4"/>
<text x="105.6" y="469.5" font-size="3.6" text-anchor="middle" fill="#4a2a10">Bak</text>
<text x="123.4" y="469.5" font-size="3.6" text-anchor="middle" fill="#4a2a10">Bax</text>
<path d="M104.2,457.6 L124.8,479.3 M124.8,457.6 L104.2,479.3" stroke="#e2281e" stroke-width="2.8" opacity="0.92"/>
<path d="M101.5,490.5 Q103,485.5 110,485.5 Q117,485.2 121,489 Q123.5,491.5 121,492.2 H103 Q100.5,492 101.5,490.5Z" fill="#dcdcdc" stroke="#111" stroke-width="0.9"/>
<circle cx="105.9" cy="485.0" r="2.2" fill="#eee" stroke="#111" stroke-width="0.8"/>
<circle cx="111.6" cy="485.9" r="2.0" fill="#eee" stroke="#111" stroke-width="0.8"/>
<path d="M121.5,491.5 Q126,490 129.5,491.5 Q131,494 127.5,495.6 H123.5" fill="none" stroke="#111" stroke-width="0.9"/>

<rect x="0.7" y="0.7" width="518.6" height="534.6" fill="none" stroke="#000" stroke-width="1.4"/>
</svg>
</body></html>
